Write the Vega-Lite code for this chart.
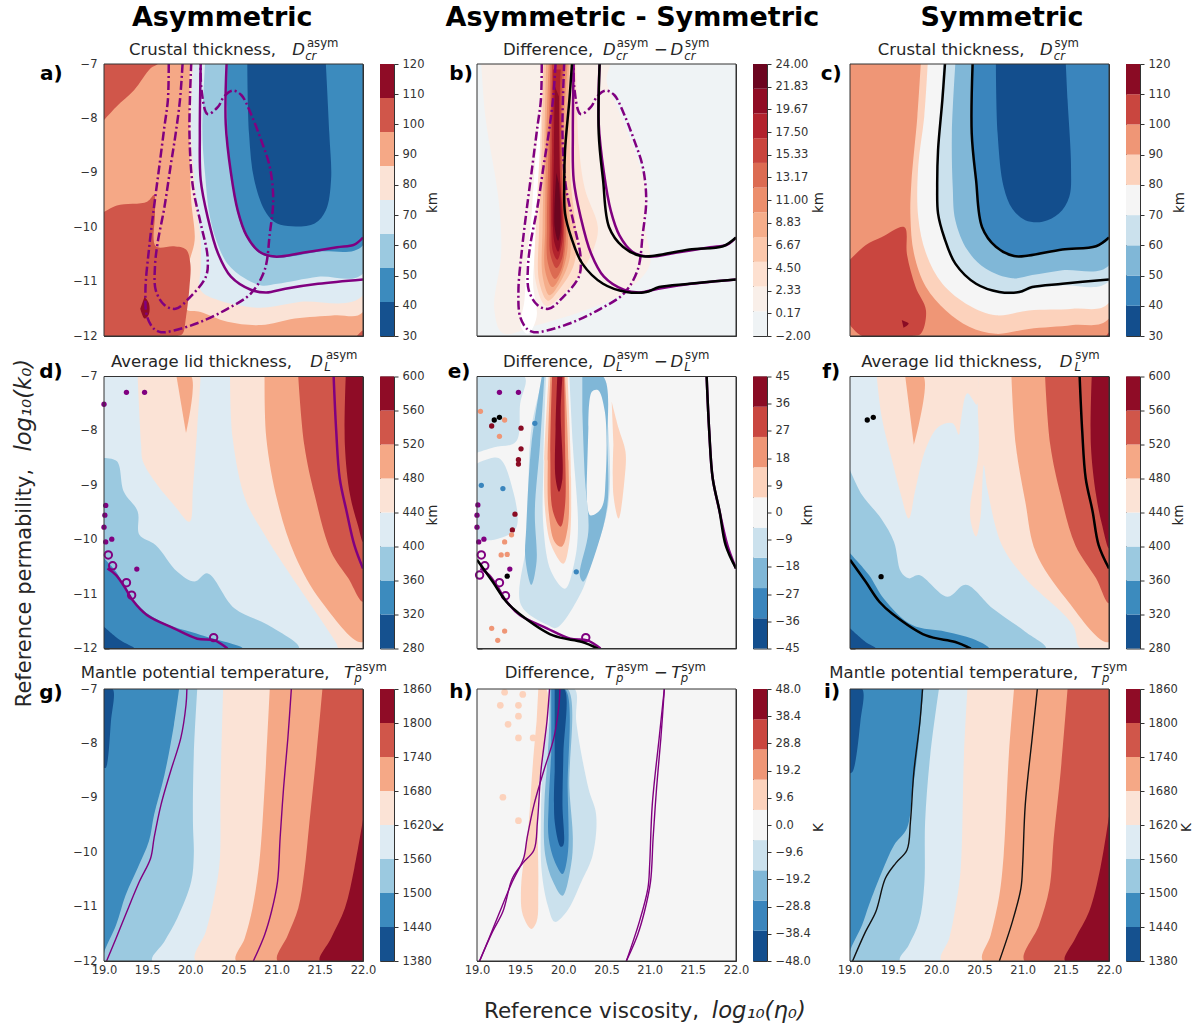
{"$schema":"https://vega.github.io/schema/vega-lite/v6.json","padding":{"left":12,"top":3,"right":0,"bottom":0},"background":"white","bounds":"flush","columns":8,"spacing":{"column":17,"row":40.5},"resolve":{"scale":{"fill":"independent","color":"independent"}},
"config":{"font":"DejaVu Sans","view":{"stroke":"#333"},"axis":{"title":null,"grid":false,"domain":false,"tickSize":-5,"tickColor":"#333","labelColor":"#333","labelFontSize":11.5,"labelPadding":12,"zindex":1,"labelFlush":false,"labelOverlap":false}},
"datasets":{
"poly":[
{"p":"a","n":0,"b":5,"x":19,"y":-12},{"p":"a","n":0,"b":5,"x":19,"y":-7},{"p":"a","n":0,"b":5,"x":22,"y":-7},{"p":"a","n":0,"b":5,"x":22,"y":-12},
{"p":"a","n":1,"b":4,"x":19.995,"y":-7},{"p":"a","n":1,"b":4,"x":19.99,"y":-8.28},{"p":"a","n":1,"b":4,"x":20.01,"y":-9.5},{"p":"a","n":1,"b":4,"x":20.05,"y":-10.24},{"p":"a","n":1,"b":4,"x":19.98,"y":-10.7},{"p":"a","n":1,"b":4,"x":19.95,"y":-11.5},{"p":"a","n":1,"b":4,"x":20.12,"y":-11.56},{"p":"a","n":1,"b":4,"x":20.43,"y":-11.74},{"p":"a","n":1,"b":4,"x":20.82,"y":-11.8},{"p":"a","n":1,"b":4,"x":21.21,"y":-11.68},{"p":"a","n":1,"b":4,"x":21.67,"y":-11.62},{"p":"a","n":1,"b":4,"x":22,"y":-11.56},{"p":"a","n":1,"b":4,"x":22,"y":-7},
{"p":"a","n":2,"b":3,"x":20.03,"y":-7},{"p":"a","n":2,"b":3,"x":20.01,"y":-8.28},{"p":"a","n":2,"b":3,"x":20.04,"y":-9.01},{"p":"a","n":2,"b":3,"x":20.08,"y":-9.75},{"p":"a","n":2,"b":3,"x":20.12,"y":-10.24},{"p":"a","n":2,"b":3,"x":20.12,"y":-10.73},{"p":"a","n":2,"b":3,"x":20.12,"y":-11.16},{"p":"a","n":2,"b":3,"x":20.32,"y":-11.34},{"p":"a","n":2,"b":3,"x":20.7,"y":-11.47},{"p":"a","n":2,"b":3,"x":20.9,"y":-11.47},{"p":"a","n":2,"b":3,"x":21.28,"y":-11.37},{"p":"a","n":2,"b":3,"x":22,"y":-11.25},{"p":"a","n":2,"b":3,"x":22,"y":-7},
{"p":"a","n":3,"b":2,"x":20.17,"y":-7},{"p":"a","n":3,"b":2,"x":20.14,"y":-8.28},{"p":"a","n":3,"b":2,"x":20.17,"y":-9.01},{"p":"a","n":3,"b":2,"x":20.22,"y":-9.75},{"p":"a","n":3,"b":2,"x":20.3,"y":-10.24},{"p":"a","n":3,"b":2,"x":20.43,"y":-10.67},{"p":"a","n":3,"b":2,"x":20.63,"y":-10.94},{"p":"a","n":3,"b":2,"x":20.82,"y":-11.07},{"p":"a","n":3,"b":2,"x":21.01,"y":-11.04},{"p":"a","n":3,"b":2,"x":21.48,"y":-10.91},{"p":"a","n":3,"b":2,"x":22,"y":-10.85},{"p":"a","n":3,"b":2,"x":22,"y":-7},
{"p":"a","n":4,"b":1,"x":20.43,"y":-7},{"p":"a","n":4,"b":1,"x":20.43,"y":-8.28},{"p":"a","n":4,"b":1,"x":20.47,"y":-9.01},{"p":"a","n":4,"b":1,"x":20.53,"y":-9.63},{"p":"a","n":4,"b":1,"x":20.63,"y":-10.12},{"p":"a","n":4,"b":1,"x":20.78,"y":-10.45},{"p":"a","n":4,"b":1,"x":20.97,"y":-10.56},{"p":"a","n":4,"b":1,"x":21.48,"y":-10.45},{"p":"a","n":4,"b":1,"x":22,"y":-10.33},{"p":"a","n":4,"b":1,"x":22,"y":-7},
{"p":"a","n":5,"b":0,"x":20.66,"y":-7},{"p":"a","n":5,"b":0,"x":20.68,"y":-8.28},{"p":"a","n":5,"b":0,"x":20.74,"y":-9.13},{"p":"a","n":5,"b":0,"x":20.86,"y":-9.69},{"p":"a","n":5,"b":0,"x":20.97,"y":-9.9},{"p":"a","n":5,"b":0,"x":21.13,"y":-9.98},{"p":"a","n":5,"b":0,"x":21.44,"y":-9.93},{"p":"a","n":5,"b":0,"x":21.57,"y":-9.69},{"p":"a","n":5,"b":0,"x":21.63,"y":-9.13},{"p":"a","n":5,"b":0,"x":21.61,"y":-8.28},{"p":"a","n":5,"b":0,"x":21.57,"y":-7},
{"p":"a","n":6,"b":6,"x":19,"y":-7},{"p":"a","n":6,"b":6,"x":19.62,"y":-7},{"p":"a","n":6,"b":6,"x":19.54,"y":-7.08},{"p":"a","n":6,"b":6,"x":19.35,"y":-7.48},{"p":"a","n":6,"b":6,"x":19.14,"y":-7.79},{"p":"a","n":6,"b":6,"x":19,"y":-8.03},
{"p":"a","n":7,"b":6,"x":19,"y":-9.72},{"p":"a","n":7,"b":6,"x":19.15,"y":-9.6},{"p":"a","n":7,"b":6,"x":19.5,"y":-9.53},{"p":"a","n":7,"b":6,"x":19.58,"y":-9.41},{"p":"a","n":7,"b":6,"x":19.59,"y":-9.75},{"p":"a","n":7,"b":6,"x":19.6,"y":-10.35},{"p":"a","n":7,"b":6,"x":19.81,"y":-10.35},{"p":"a","n":7,"b":6,"x":19.95,"y":-10.41},{"p":"a","n":7,"b":6,"x":20,"y":-10.67},{"p":"a","n":7,"b":6,"x":19.99,"y":-11.1},{"p":"a","n":7,"b":6,"x":19.95,"y":-11.65},{"p":"a","n":7,"b":6,"x":19.91,"y":-11.96},{"p":"a","n":7,"b":6,"x":19.85,"y":-12},{"p":"a","n":7,"b":6,"x":19,"y":-12},
{"p":"a","n":8,"b":7,"x":19.47,"y":-11.28},{"p":"a","n":8,"b":7,"x":19.52,"y":-11.4},{"p":"a","n":8,"b":7,"x":19.52,"y":-11.6},{"p":"a","n":8,"b":7,"x":19.47,"y":-11.68},{"p":"a","n":8,"b":7,"x":19.42,"y":-11.5},
{"p":"a","n":9,"b":6,"x":21.93,"y":-12},{"p":"a","n":9,"b":6,"x":22,"y":-11.9},{"p":"a","n":9,"b":6,"x":22,"y":-12},
{"p":"b","n":0,"b":0,"x":19,"y":-12},{"p":"b","n":0,"b":0,"x":19,"y":-7},{"p":"b","n":0,"b":0,"x":22,"y":-7},{"p":"b","n":0,"b":0,"x":22,"y":-12},
{"p":"b","n":1,"b":1,"x":19.05,"y":-7},{"p":"b","n":1,"b":1,"x":19.1,"y":-8},{"p":"b","n":1,"b":1,"x":19.25,"y":-9.5},{"p":"b","n":1,"b":1,"x":19.28,"y":-10.5},{"p":"b","n":1,"b":1,"x":19.2,"y":-11.5},{"p":"b","n":1,"b":1,"x":19.3,"y":-11.95},{"p":"b","n":1,"b":1,"x":19.7,"y":-11.8},{"p":"b","n":1,"b":1,"x":20.3,"y":-11.5},{"p":"b","n":1,"b":1,"x":20.7,"y":-11.2},{"p":"b","n":1,"b":1,"x":21,"y":-10.7},{"p":"b","n":1,"b":1,"x":20.95,"y":-10},{"p":"b","n":1,"b":1,"x":20.97,"y":-9.4},{"p":"b","n":1,"b":1,"x":20.85,"y":-8.7},{"p":"b","n":1,"b":1,"x":20.6,"y":-7.7},{"p":"b","n":1,"b":1,"x":20.5,"y":-7.3},{"p":"b","n":1,"b":1,"x":20.55,"y":-7},
{"p":"b","n":2,"b":11,"x":19.73,"y":-7.97},{"p":"b","n":2,"b":11,"x":19.67,"y":-8.89},{"p":"b","n":2,"b":11,"x":19.63,"y":-9.81},{"p":"b","n":2,"b":11,"x":19.57,"y":-10.73},{"p":"b","n":2,"b":11,"x":19.55,"y":-11.34},{"p":"b","n":2,"b":11,"x":19.51,"y":-11.83},{"p":"b","n":2,"b":11,"x":19.59,"y":-11.96},{"p":"b","n":2,"b":11,"x":19.69,"y":-11.65},{"p":"b","n":2,"b":11,"x":19.65,"y":-11.04},{"p":"b","n":2,"b":11,"x":19.69,"y":-10.12},{"p":"b","n":2,"b":11,"x":19.73,"y":-9.2},{"p":"b","n":2,"b":11,"x":19.77,"y":-8.28},
{"p":"b","n":3,"b":2,"x":19.76,"y":-7},{"p":"b","n":3,"b":2,"x":19.73,"y":-8.5},{"p":"b","n":3,"b":2,"x":19.68,"y":-10},{"p":"b","n":3,"b":2,"x":19.68,"y":-11},{"p":"b","n":3,"b":2,"x":19.8,"y":-11.45},{"p":"b","n":3,"b":2,"x":19.95,"y":-11.3},{"p":"b","n":3,"b":2,"x":20.18,"y":-10.9},{"p":"b","n":3,"b":2,"x":20.35,"y":-10.4},{"p":"b","n":3,"b":2,"x":20.4,"y":-10},{"p":"b","n":3,"b":2,"x":20.25,"y":-9.3},{"p":"b","n":3,"b":2,"x":20.18,"y":-8.5},{"p":"b","n":3,"b":2,"x":20.15,"y":-7},
{"p":"b","n":4,"b":3,"x":19.77,"y":-7},{"p":"b","n":4,"b":3,"x":19.75,"y":-8.5},{"p":"b","n":4,"b":3,"x":19.72,"y":-10},{"p":"b","n":4,"b":3,"x":19.72,"y":-11},{"p":"b","n":4,"b":3,"x":19.82,"y":-11.35},{"p":"b","n":4,"b":3,"x":19.95,"y":-11.15},{"p":"b","n":4,"b":3,"x":20.12,"y":-10.7},{"p":"b","n":4,"b":3,"x":20.15,"y":-10.2},{"p":"b","n":4,"b":3,"x":20.08,"y":-9},{"p":"b","n":4,"b":3,"x":20.1,"y":-7},
{"p":"b","n":5,"b":4,"x":19.8,"y":-7},{"p":"b","n":5,"b":4,"x":19.78,"y":-8.5},{"p":"b","n":5,"b":4,"x":19.76,"y":-10},{"p":"b","n":5,"b":4,"x":19.76,"y":-10.9},{"p":"b","n":5,"b":4,"x":19.84,"y":-11.25},{"p":"b","n":5,"b":4,"x":19.95,"y":-11.05},{"p":"b","n":5,"b":4,"x":20.07,"y":-10.6},{"p":"b","n":5,"b":4,"x":20.08,"y":-10},{"p":"b","n":5,"b":4,"x":20.03,"y":-9},{"p":"b","n":5,"b":4,"x":20.07,"y":-7},
{"p":"b","n":6,"b":5,"x":19.83,"y":-7},{"p":"b","n":6,"b":5,"x":19.8,"y":-8.5},{"p":"b","n":6,"b":5,"x":19.79,"y":-10},{"p":"b","n":6,"b":5,"x":19.79,"y":-10.8},{"p":"b","n":6,"b":5,"x":19.87,"y":-11.1},{"p":"b","n":6,"b":5,"x":19.95,"y":-10.95},{"p":"b","n":6,"b":5,"x":20.04,"y":-10.5},{"p":"b","n":6,"b":5,"x":20.05,"y":-10},{"p":"b","n":6,"b":5,"x":20,"y":-8.5},{"p":"b","n":6,"b":5,"x":20.05,"y":-7},
{"p":"b","n":7,"b":6,"x":19.85,"y":-7},{"p":"b","n":7,"b":6,"x":19.83,"y":-8.5},{"p":"b","n":7,"b":6,"x":19.81,"y":-10},{"p":"b","n":7,"b":6,"x":19.82,"y":-10.65},{"p":"b","n":7,"b":6,"x":19.9,"y":-10.95},{"p":"b","n":7,"b":6,"x":19.97,"y":-10.8},{"p":"b","n":7,"b":6,"x":20.02,"y":-10.4},{"p":"b","n":7,"b":6,"x":20.03,"y":-10},{"p":"b","n":7,"b":6,"x":19.98,"y":-8.5},{"p":"b","n":7,"b":6,"x":20.02,"y":-7},
{"p":"b","n":8,"b":7,"x":19.87,"y":-7},{"p":"b","n":8,"b":7,"x":19.85,"y":-8.5},{"p":"b","n":8,"b":7,"x":19.84,"y":-10},{"p":"b","n":8,"b":7,"x":19.85,"y":-10.5},{"p":"b","n":8,"b":7,"x":19.92,"y":-10.75},{"p":"b","n":8,"b":7,"x":19.98,"y":-10.6},{"p":"b","n":8,"b":7,"x":20.01,"y":-10.2},{"p":"b","n":8,"b":7,"x":19.98,"y":-9},{"p":"b","n":8,"b":7,"x":19.98,"y":-7.5},{"p":"b","n":8,"b":7,"x":20,"y":-7},
{"p":"b","n":9,"b":8,"x":19.88,"y":-7.1},{"p":"b","n":9,"b":8,"x":19.87,"y":-8.5},{"p":"b","n":9,"b":8,"x":19.86,"y":-10},{"p":"b","n":9,"b":8,"x":19.88,"y":-10.45},{"p":"b","n":9,"b":8,"x":19.93,"y":-10.6},{"p":"b","n":9,"b":8,"x":19.98,"y":-10.35},{"p":"b","n":9,"b":8,"x":20,"y":-10},{"p":"b","n":9,"b":8,"x":19.96,"y":-9},{"p":"b","n":9,"b":8,"x":19.96,"y":-7.5},{"p":"b","n":9,"b":8,"x":19.97,"y":-7.1},
{"p":"b","n":10,"b":9,"x":19.9,"y":-7.4},{"p":"b","n":10,"b":9,"x":19.89,"y":-8.7},{"p":"b","n":10,"b":9,"x":19.88,"y":-10},{"p":"b","n":10,"b":9,"x":19.9,"y":-10.3},{"p":"b","n":10,"b":9,"x":19.94,"y":-10.45},{"p":"b","n":10,"b":9,"x":19.98,"y":-10.1},{"p":"b","n":10,"b":9,"x":19.96,"y":-9},{"p":"b","n":10,"b":9,"x":19.95,"y":-7.6},
{"p":"b","n":11,"b":10,"x":19.92,"y":-9},{"p":"b","n":11,"b":10,"x":19.9,"y":-10},{"p":"b","n":11,"b":10,"x":19.94,"y":-10.25},{"p":"b","n":11,"b":10,"x":19.97,"y":-10},{"p":"b","n":11,"b":10,"x":19.95,"y":-9.2},
{"p":"c","n":0,"b":6,"x":19,"y":-12},{"p":"c","n":0,"b":6,"x":19,"y":-7},{"p":"c","n":0,"b":6,"x":22,"y":-7},{"p":"c","n":0,"b":6,"x":22,"y":-12},
{"p":"c","n":1,"b":5,"x":19.82,"y":-7},{"p":"c","n":1,"b":5,"x":19.78,"y":-7.97},{"p":"c","n":1,"b":5,"x":19.71,"y":-9.2},{"p":"c","n":1,"b":5,"x":19.7,"y":-9.81},{"p":"c","n":1,"b":5,"x":19.74,"y":-10.48},{"p":"c","n":1,"b":5,"x":19.88,"y":-11.1},{"p":"c","n":1,"b":5,"x":20.11,"y":-11.53},{"p":"c","n":1,"b":5,"x":20.38,"y":-11.83},{"p":"c","n":1,"b":5,"x":20.69,"y":-11.96},{"p":"c","n":1,"b":5,"x":21.07,"y":-11.87},{"p":"c","n":1,"b":5,"x":21.58,"y":-11.8},{"p":"c","n":1,"b":5,"x":22,"y":-11.68},{"p":"c","n":1,"b":5,"x":22,"y":-7},
{"p":"c","n":2,"b":4,"x":19.9,"y":-7},{"p":"c","n":2,"b":4,"x":19.86,"y":-7.97},{"p":"c","n":2,"b":4,"x":19.79,"y":-8.89},{"p":"c","n":2,"b":4,"x":19.79,"y":-9.81},{"p":"c","n":2,"b":4,"x":19.88,"y":-10.48},{"p":"c","n":2,"b":4,"x":20.07,"y":-11.04},{"p":"c","n":2,"b":4,"x":20.38,"y":-11.44},{"p":"c","n":2,"b":4,"x":20.69,"y":-11.62},{"p":"c","n":2,"b":4,"x":21.07,"y":-11.53},{"p":"c","n":2,"b":4,"x":21.58,"y":-11.5},{"p":"c","n":2,"b":4,"x":22,"y":-11.39},{"p":"c","n":2,"b":4,"x":22,"y":-7},
{"p":"c","n":3,"b":3,"x":20.08,"y":-7},{"p":"c","n":3,"b":3,"x":20.03,"y":-8.28},{"p":"c","n":3,"b":3,"x":20,"y":-9.26},{"p":"c","n":3,"b":3,"x":20.01,"y":-9.75},{"p":"c","n":3,"b":3,"x":20.08,"y":-10.18},{"p":"c","n":3,"b":3,"x":20.21,"y":-10.67},{"p":"c","n":3,"b":3,"x":20.45,"y":-11.04},{"p":"c","n":3,"b":3,"x":20.72,"y":-11.22},{"p":"c","n":3,"b":3,"x":20.96,"y":-11.22},{"p":"c","n":3,"b":3,"x":21.12,"y":-11.13},{"p":"c","n":3,"b":3,"x":21.46,"y":-11.07},{"p":"c","n":3,"b":3,"x":22,"y":-10.99},{"p":"c","n":3,"b":3,"x":22,"y":-7},
{"p":"c","n":4,"b":2,"x":20.22,"y":-7},{"p":"c","n":4,"b":2,"x":20.18,"y":-8.28},{"p":"c","n":4,"b":2,"x":20.19,"y":-9.26},{"p":"c","n":4,"b":2,"x":20.22,"y":-9.87},{"p":"c","n":4,"b":2,"x":20.36,"y":-10.42},{"p":"c","n":4,"b":2,"x":20.57,"y":-10.76},{"p":"c","n":4,"b":2,"x":20.88,"y":-10.94},{"p":"c","n":4,"b":2,"x":21.11,"y":-10.88},{"p":"c","n":4,"b":2,"x":21.46,"y":-10.79},{"p":"c","n":4,"b":2,"x":22,"y":-10.7},{"p":"c","n":4,"b":2,"x":22,"y":-7},
{"p":"c","n":5,"b":1,"x":20.42,"y":-7},{"p":"c","n":5,"b":1,"x":20.41,"y":-8.28},{"p":"c","n":5,"b":1,"x":20.46,"y":-9.13},{"p":"c","n":5,"b":1,"x":20.53,"y":-10},{"p":"c","n":5,"b":1,"x":20.69,"y":-10.36},{"p":"c","n":5,"b":1,"x":20.9,"y":-10.53},{"p":"c","n":5,"b":1,"x":21.07,"y":-10.52},{"p":"c","n":5,"b":1,"x":21.46,"y":-10.41},{"p":"c","n":5,"b":1,"x":21.85,"y":-10.35},{"p":"c","n":5,"b":1,"x":22,"y":-10.19},{"p":"c","n":5,"b":1,"x":22,"y":-7},
{"p":"c","n":6,"b":0,"x":20.69,"y":-7},{"p":"c","n":6,"b":0,"x":20.71,"y":-8.28},{"p":"c","n":6,"b":0,"x":20.78,"y":-9.26},{"p":"c","n":6,"b":0,"x":20.88,"y":-9.66},{"p":"c","n":6,"b":0,"x":21.03,"y":-9.87},{"p":"c","n":6,"b":0,"x":21.23,"y":-9.9},{"p":"c","n":6,"b":0,"x":21.42,"y":-9.75},{"p":"c","n":6,"b":0,"x":21.54,"y":-9.44},{"p":"c","n":6,"b":0,"x":21.56,"y":-8.89},{"p":"c","n":6,"b":0,"x":21.52,"y":-7.66},{"p":"c","n":6,"b":0,"x":21.5,"y":-7},
{"p":"c","n":7,"b":7,"x":19,"y":-10.6},{"p":"c","n":7,"b":7,"x":19.18,"y":-10.33},{"p":"c","n":7,"b":7,"x":19.37,"y":-10.18},{"p":"c","n":7,"b":7,"x":19.63,"y":-10},{"p":"c","n":7,"b":7,"x":19.66,"y":-10.5},{"p":"c","n":7,"b":7,"x":19.76,"y":-11.1},{"p":"c","n":7,"b":7,"x":19.88,"y":-11.53},{"p":"c","n":7,"b":7,"x":19.82,"y":-11.96},{"p":"c","n":7,"b":7,"x":19.72,"y":-12},{"p":"c","n":7,"b":7,"x":19.14,"y":-12},{"p":"c","n":7,"b":7,"x":19,"y":-11.8},
{"p":"c","n":8,"b":8,"x":19.6,"y":-11.71},{"p":"c","n":8,"b":8,"x":19.68,"y":-11.77},{"p":"c","n":8,"b":8,"x":19.62,"y":-11.85},
{"p":"c","n":9,"b":7,"x":22,"y":-11.93},{"p":"c","n":9,"b":7,"x":21.97,"y":-12},{"p":"c","n":9,"b":7,"x":22,"y":-12},
{"p":"d","n":0,"b":3,"x":19,"y":-12},{"p":"d","n":0,"b":3,"x":19,"y":-7},{"p":"d","n":0,"b":3,"x":22,"y":-7},{"p":"d","n":0,"b":3,"x":22,"y":-12},
{"p":"d","n":1,"b":4,"x":20.46,"y":-7},{"p":"d","n":1,"b":4,"x":20.49,"y":-8.13},{"p":"d","n":1,"b":4,"x":20.64,"y":-9.27},{"p":"d","n":1,"b":4,"x":20.86,"y":-9.91},{"p":"d","n":1,"b":4,"x":21.11,"y":-10.53},{"p":"d","n":1,"b":4,"x":21.69,"y":-11.9},{"p":"d","n":1,"b":4,"x":21.72,"y":-12},{"p":"d","n":1,"b":4,"x":22,"y":-12},{"p":"d","n":1,"b":4,"x":22,"y":-7},
{"p":"d","n":2,"b":5,"x":20.86,"y":-7},{"p":"d","n":2,"b":5,"x":20.88,"y":-8.13},{"p":"d","n":2,"b":5,"x":21.01,"y":-9.3},{"p":"d","n":2,"b":5,"x":21.21,"y":-10.28},{"p":"d","n":2,"b":5,"x":21.52,"y":-11.14},{"p":"d","n":2,"b":5,"x":22,"y":-11.88},{"p":"d","n":2,"b":5,"x":22,"y":-7},
{"p":"d","n":3,"b":6,"x":21.25,"y":-7},{"p":"d","n":3,"b":6,"x":21.32,"y":-8.26},{"p":"d","n":3,"b":6,"x":21.44,"y":-9.18},{"p":"d","n":3,"b":6,"x":21.63,"y":-10.22},{"p":"d","n":3,"b":6,"x":21.83,"y":-10.71},{"p":"d","n":3,"b":6,"x":22,"y":-11.14},{"p":"d","n":3,"b":6,"x":22,"y":-7},
{"p":"d","n":4,"b":7,"x":21.8,"y":-7},{"p":"d","n":4,"b":7,"x":21.79,"y":-8.26},{"p":"d","n":4,"b":7,"x":21.85,"y":-9.18},{"p":"d","n":4,"b":7,"x":21.94,"y":-9.73},{"p":"d","n":4,"b":7,"x":22,"y":-10.04},{"p":"d","n":4,"b":7,"x":22,"y":-7},
{"p":"d","n":5,"b":4,"x":19.39,"y":-7},{"p":"d","n":5,"b":4,"x":19.43,"y":-8.26},{"p":"d","n":5,"b":4,"x":19.45,"y":-8.56},{"p":"d","n":5,"b":4,"x":19.62,"y":-9},{"p":"d","n":5,"b":4,"x":19.81,"y":-9.36},{"p":"d","n":5,"b":4,"x":19.99,"y":-9.67},{"p":"d","n":5,"b":4,"x":20.03,"y":-9.05},{"p":"d","n":5,"b":4,"x":20.08,"y":-7.95},{"p":"d","n":5,"b":4,"x":20.12,"y":-7},
{"p":"d","n":6,"b":5,"x":19.84,"y":-7},{"p":"d","n":6,"b":5,"x":20.01,"y":-7},{"p":"d","n":6,"b":5,"x":19.95,"y":-8.04},
{"p":"d","n":7,"b":2,"x":19,"y":-8.5},{"p":"d","n":7,"b":2,"x":19.15,"y":-8.56},{"p":"d","n":7,"b":2,"x":19.23,"y":-9.12},{"p":"d","n":7,"b":2,"x":19.39,"y":-9.48},{"p":"d","n":7,"b":2,"x":19.41,"y":-9.91},{"p":"d","n":7,"b":2,"x":19.6,"y":-10.1},{"p":"d","n":7,"b":2,"x":19.85,"y":-10.59},{"p":"d","n":7,"b":2,"x":20.05,"y":-10.77},{"p":"d","n":7,"b":2,"x":20.2,"y":-10.62},{"p":"d","n":7,"b":2,"x":20.51,"y":-11.26},{"p":"d","n":7,"b":2,"x":20.9,"y":-11.57},{"p":"d","n":7,"b":2,"x":21.26,"y":-12},{"p":"d","n":7,"b":2,"x":19,"y":-12},
{"p":"d","n":8,"b":1,"x":19,"y":-10.34},{"p":"d","n":8,"b":1,"x":19.14,"y":-10.59},{"p":"d","n":8,"b":1,"x":19.35,"y":-11.14},{"p":"d","n":8,"b":1,"x":19.66,"y":-11.51},{"p":"d","n":8,"b":1,"x":20.12,"y":-11.75},{"p":"d","n":8,"b":1,"x":20.61,"y":-12},{"p":"d","n":8,"b":1,"x":19,"y":-12},
{"p":"d","n":9,"b":0,"x":19,"y":-11.6},{"p":"d","n":9,"b":0,"x":19.19,"y":-11.85},{"p":"d","n":9,"b":0,"x":19.35,"y":-12},{"p":"d","n":9,"b":0,"x":19,"y":-12},
{"p":"e","n":0,"b":4,"x":19,"y":-12},{"p":"e","n":0,"b":4,"x":19,"y":-7},{"p":"e","n":0,"b":4,"x":22,"y":-7},{"p":"e","n":0,"b":4,"x":22,"y":-12},
{"p":"e","n":1,"b":3,"x":19,"y":-7},{"p":"e","n":1,"b":3,"x":19.55,"y":-7},{"p":"e","n":1,"b":3,"x":19.5,"y":-7.5},{"p":"e","n":1,"b":3,"x":19.45,"y":-8.2},{"p":"e","n":1,"b":3,"x":19.2,"y":-8.3},{"p":"e","n":1,"b":3,"x":19,"y":-8.4},
{"p":"e","n":2,"b":3,"x":19,"y":-8.6},{"p":"e","n":2,"b":3,"x":19.25,"y":-8.5},{"p":"e","n":2,"b":3,"x":19.4,"y":-9},{"p":"e","n":2,"b":3,"x":19.45,"y":-9.8},{"p":"e","n":2,"b":3,"x":19.2,"y":-10},{"p":"e","n":2,"b":3,"x":19,"y":-10},
{"p":"e","n":3,"b":3,"x":19.77,"y":-7},{"p":"e","n":3,"b":3,"x":19.63,"y":-7.95},{"p":"e","n":3,"b":3,"x":19.59,"y":-9.48},{"p":"e","n":3,"b":3,"x":19.57,"y":-10.1},{"p":"e","n":3,"b":3,"x":19.51,"y":-11.2},{"p":"e","n":3,"b":3,"x":19.82,"y":-11.57},{"p":"e","n":3,"b":3,"x":19.92,"y":-11.62},{"p":"e","n":3,"b":3,"x":20.21,"y":-10.96},{"p":"e","n":3,"b":3,"x":20.33,"y":-10.4},{"p":"e","n":3,"b":3,"x":20.52,"y":-9.36},{"p":"e","n":3,"b":3,"x":20.52,"y":-7.95},{"p":"e","n":3,"b":3,"x":20.44,"y":-7},
{"p":"e","n":4,"b":2,"x":19.75,"y":-7},{"p":"e","n":4,"b":2,"x":19.63,"y":-8.26},{"p":"e","n":4,"b":2,"x":19.57,"y":-9.79},{"p":"e","n":4,"b":2,"x":19.56,"y":-10.34},{"p":"e","n":4,"b":2,"x":19.63,"y":-10.83},{"p":"e","n":4,"b":2,"x":19.69,"y":-10.4},{"p":"e","n":4,"b":2,"x":19.67,"y":-9.48},{"p":"e","n":4,"b":2,"x":19.73,"y":-8.26},{"p":"e","n":4,"b":2,"x":19.78,"y":-7},
{"p":"e","n":5,"b":2,"x":20.22,"y":-7},{"p":"e","n":5,"b":2,"x":20.46,"y":-7},{"p":"e","n":5,"b":2,"x":20.51,"y":-8.26},{"p":"e","n":5,"b":2,"x":20.51,"y":-9.36},{"p":"e","n":5,"b":2,"x":20.4,"y":-10.1},{"p":"e","n":5,"b":2,"x":20.23,"y":-10.77},{"p":"e","n":5,"b":2,"x":20.19,"y":-10.65},{"p":"e","n":5,"b":2,"x":20.29,"y":-9.85},{"p":"e","n":5,"b":2,"x":20.25,"y":-8.87},{"p":"e","n":5,"b":2,"x":20.22,"y":-7.64},
{"p":"e","n":6,"b":4,"x":20.29,"y":-7.95},{"p":"e","n":6,"b":4,"x":20.33,"y":-7.28},{"p":"e","n":6,"b":4,"x":20.4,"y":-7.25},{"p":"e","n":6,"b":4,"x":20.48,"y":-7.64},{"p":"e","n":6,"b":4,"x":20.49,"y":-8.87},{"p":"e","n":6,"b":4,"x":20.44,"y":-9.42},{"p":"e","n":6,"b":4,"x":20.31,"y":-9.55},{"p":"e","n":6,"b":4,"x":20.27,"y":-8.99},
{"p":"e","n":7,"b":4,"x":19.8,"y":-7},{"p":"e","n":7,"b":4,"x":19.77,"y":-8.56},{"p":"e","n":7,"b":4,"x":19.77,"y":-9.79},{"p":"e","n":7,"b":4,"x":19.86,"y":-10.59},{"p":"e","n":7,"b":4,"x":20.02,"y":-10.9},{"p":"e","n":7,"b":4,"x":20.13,"y":-10.4},{"p":"e","n":7,"b":4,"x":20.17,"y":-9.79},{"p":"e","n":7,"b":4,"x":20.11,"y":-8.26},{"p":"e","n":7,"b":4,"x":20.07,"y":-7},
{"p":"e","n":8,"b":5,"x":19.83,"y":-7},{"p":"e","n":8,"b":5,"x":19.78,"y":-8.56},{"p":"e","n":8,"b":5,"x":19.79,"y":-9.48},{"p":"e","n":8,"b":5,"x":19.86,"y":-10.1},{"p":"e","n":8,"b":5,"x":20,"y":-10.44},{"p":"e","n":8,"b":5,"x":20.07,"y":-10.04},{"p":"e","n":8,"b":5,"x":20.09,"y":-8.87},{"p":"e","n":8,"b":5,"x":20.05,"y":-7},
{"p":"e","n":9,"b":6,"x":19.85,"y":-7},{"p":"e","n":9,"b":6,"x":19.82,"y":-8.56},{"p":"e","n":9,"b":6,"x":19.83,"y":-9.48},{"p":"e","n":9,"b":6,"x":19.9,"y":-10.04},{"p":"e","n":9,"b":6,"x":19.98,"y":-10.13},{"p":"e","n":9,"b":6,"x":20.05,"y":-9.79},{"p":"e","n":9,"b":6,"x":20.06,"y":-8.56},{"p":"e","n":9,"b":6,"x":20.02,"y":-7},
{"p":"e","n":10,"b":7,"x":19.87,"y":-7},{"p":"e","n":10,"b":7,"x":19.85,"y":-8.56},{"p":"e","n":10,"b":7,"x":19.88,"y":-9.48},{"p":"e","n":10,"b":7,"x":19.97,"y":-9.76},{"p":"e","n":10,"b":7,"x":20.02,"y":-9.36},{"p":"e","n":10,"b":7,"x":20.02,"y":-8.26},{"p":"e","n":10,"b":7,"x":20.01,"y":-7},
{"p":"e","n":11,"b":8,"x":19.93,"y":-7},{"p":"e","n":11,"b":8,"x":19.91,"y":-7.95},{"p":"e","n":11,"b":8,"x":19.91,"y":-8.87},{"p":"e","n":11,"b":8,"x":19.95,"y":-9.12},{"p":"e","n":11,"b":8,"x":19.99,"y":-8.87},{"p":"e","n":11,"b":8,"x":19.97,"y":-7.64},{"p":"e","n":11,"b":8,"x":19.99,"y":-7},
{"p":"e","n":12,"b":5,"x":20.56,"y":-7.46},{"p":"e","n":12,"b":5,"x":20.64,"y":-7.95},{"p":"e","n":12,"b":5,"x":20.72,"y":-8.38},{"p":"e","n":12,"b":5,"x":20.71,"y":-8.87},{"p":"e","n":12,"b":5,"x":20.64,"y":-9.61},{"p":"e","n":12,"b":5,"x":20.58,"y":-9.18},{"p":"e","n":12,"b":5,"x":20.58,"y":-8.26},
{"p":"f","n":0,"b":3,"x":19,"y":-12},{"p":"f","n":0,"b":3,"x":19,"y":-7},{"p":"f","n":0,"b":3,"x":22,"y":-7},{"p":"f","n":0,"b":3,"x":22,"y":-12},
{"p":"f","n":1,"b":4,"x":19.31,"y":-7},{"p":"f","n":1,"b":4,"x":19.37,"y":-7.77},{"p":"f","n":1,"b":4,"x":19.49,"y":-8.56},{"p":"f","n":1,"b":4,"x":19.59,"y":-9.18},{"p":"f","n":1,"b":4,"x":19.68,"y":-9.61},{"p":"f","n":1,"b":4,"x":19.76,"y":-9.06},{"p":"f","n":1,"b":4,"x":19.88,"y":-8.32},{"p":"f","n":1,"b":4,"x":20.03,"y":-7.92},{"p":"f","n":1,"b":4,"x":20.19,"y":-7.86},{"p":"f","n":1,"b":4,"x":20.26,"y":-8.07},{"p":"f","n":1,"b":4,"x":20.28,"y":-7.86},{"p":"f","n":1,"b":4,"x":20.36,"y":-7.31},{"p":"f","n":1,"b":4,"x":20.47,"y":-7.52},{"p":"f","n":1,"b":4,"x":20.49,"y":-7},
{"p":"f","n":2,"b":4,"x":20.49,"y":-7},{"p":"f","n":2,"b":4,"x":20.48,"y":-7.5},{"p":"f","n":2,"b":4,"x":20.49,"y":-8.38},{"p":"f","n":2,"b":4,"x":20.39,"y":-9.55},{"p":"f","n":2,"b":4,"x":20.46,"y":-9.94},{"p":"f","n":2,"b":4,"x":20.51,"y":-9.61},{"p":"f","n":2,"b":4,"x":20.55,"y":-8.63},{"p":"f","n":2,"b":4,"x":20.59,"y":-9.06},{"p":"f","n":2,"b":4,"x":20.76,"y":-10.1},{"p":"f","n":2,"b":4,"x":21.03,"y":-10.71},{"p":"f","n":2,"b":4,"x":21.58,"y":-11.57},{"p":"f","n":2,"b":4,"x":21.67,"y":-12},{"p":"f","n":2,"b":4,"x":22,"y":-12},{"p":"f","n":2,"b":4,"x":22,"y":-7},
{"p":"f","n":3,"b":5,"x":20.87,"y":-7},{"p":"f","n":3,"b":5,"x":20.92,"y":-8.26},{"p":"f","n":3,"b":5,"x":21.03,"y":-9.3},{"p":"f","n":3,"b":5,"x":21.15,"y":-10.22},{"p":"f","n":3,"b":5,"x":21.5,"y":-11.08},{"p":"f","n":3,"b":5,"x":22,"y":-11.88},{"p":"f","n":3,"b":5,"x":22,"y":-7},
{"p":"f","n":4,"b":5,"x":19.64,"y":-7},{"p":"f","n":4,"b":5,"x":19.85,"y":-7},{"p":"f","n":4,"b":5,"x":19.74,"y":-8.26},
{"p":"f","n":5,"b":6,"x":21.26,"y":-7},{"p":"f","n":5,"b":6,"x":21.32,"y":-8.26},{"p":"f","n":5,"b":6,"x":21.44,"y":-9.18},{"p":"f","n":5,"b":6,"x":21.61,"y":-10.1},{"p":"f","n":5,"b":6,"x":21.85,"y":-10.71},{"p":"f","n":5,"b":6,"x":22,"y":-11.17},{"p":"f","n":5,"b":6,"x":22,"y":-7},
{"p":"f","n":6,"b":7,"x":21.8,"y":-7},{"p":"f","n":6,"b":7,"x":21.79,"y":-8.26},{"p":"f","n":6,"b":7,"x":21.85,"y":-9.18},{"p":"f","n":6,"b":7,"x":21.92,"y":-9.73},{"p":"f","n":6,"b":7,"x":22,"y":-10.16},{"p":"f","n":6,"b":7,"x":22,"y":-7},
{"p":"f","n":7,"b":2,"x":19,"y":-8.72},{"p":"f","n":7,"b":2,"x":19.14,"y":-9.18},{"p":"f","n":7,"b":2,"x":19.36,"y":-9.61},{"p":"f","n":7,"b":2,"x":19.51,"y":-10.04},{"p":"f","n":7,"b":2,"x":19.59,"y":-10.59},{"p":"f","n":7,"b":2,"x":19.68,"y":-10.71},{"p":"f","n":7,"b":2,"x":19.8,"y":-10.65},{"p":"f","n":7,"b":2,"x":20.13,"y":-11.05},{"p":"f","n":7,"b":2,"x":20.34,"y":-10.83},{"p":"f","n":7,"b":2,"x":20.65,"y":-11.26},{"p":"f","n":7,"b":2,"x":21.03,"y":-11.69},{"p":"f","n":7,"b":2,"x":21.27,"y":-12},{"p":"f","n":7,"b":2,"x":19,"y":-12},
{"p":"f","n":8,"b":1,"x":19,"y":-10.25},{"p":"f","n":8,"b":1,"x":19.22,"y":-10.65},{"p":"f","n":8,"b":1,"x":19.39,"y":-11.08},{"p":"f","n":8,"b":1,"x":19.72,"y":-11.57},{"p":"f","n":8,"b":1,"x":20.11,"y":-11.69},{"p":"f","n":8,"b":1,"x":20.42,"y":-11.82},{"p":"f","n":8,"b":1,"x":20.61,"y":-12},{"p":"f","n":8,"b":1,"x":19,"y":-12},
{"p":"f","n":9,"b":0,"x":19,"y":-11.63},{"p":"f","n":9,"b":0,"x":19.18,"y":-11.88},{"p":"f","n":9,"b":0,"x":19.3,"y":-12},{"p":"f","n":9,"b":0,"x":19,"y":-12},
{"p":"g","n":0,"b":1,"x":19,"y":-12},{"p":"g","n":0,"b":1,"x":19,"y":-7},{"p":"g","n":0,"b":1,"x":22,"y":-7},{"p":"g","n":0,"b":1,"x":22,"y":-12},
{"p":"g","n":1,"b":0,"x":19,"y":-7},{"p":"g","n":1,"b":0,"x":19.1,"y":-7},{"p":"g","n":1,"b":0,"x":19.08,"y":-7.6},{"p":"g","n":1,"b":0,"x":19.02,"y":-8.45},{"p":"g","n":1,"b":0,"x":19,"y":-8.45},
{"p":"g","n":2,"b":2,"x":19.87,"y":-7},{"p":"g","n":2,"b":2,"x":19.81,"y":-7.66},{"p":"g","n":2,"b":2,"x":19.7,"y":-8.58},{"p":"g","n":2,"b":2,"x":19.58,"y":-9.31},{"p":"g","n":2,"b":2,"x":19.52,"y":-9.8},{"p":"g","n":2,"b":2,"x":19.39,"y":-10.29},{"p":"g","n":2,"b":2,"x":19.25,"y":-10.79},{"p":"g","n":2,"b":2,"x":19.14,"y":-11.34},{"p":"g","n":2,"b":2,"x":19,"y":-11.86},{"p":"g","n":2,"b":2,"x":19,"y":-12},{"p":"g","n":2,"b":2,"x":22,"y":-12},{"p":"g","n":2,"b":2,"x":22,"y":-7},
{"p":"g","n":3,"b":3,"x":20.08,"y":-7},{"p":"g","n":3,"b":3,"x":20.04,"y":-8.21},{"p":"g","n":3,"b":3,"x":20.03,"y":-9.44},{"p":"g","n":3,"b":3,"x":20.04,"y":-10.05},{"p":"g","n":3,"b":3,"x":20.01,"y":-10.54},{"p":"g","n":3,"b":3,"x":19.85,"y":-11.21},{"p":"g","n":3,"b":3,"x":19.7,"y":-11.64},{"p":"g","n":3,"b":3,"x":19.56,"y":-12},{"p":"g","n":3,"b":3,"x":22,"y":-12},{"p":"g","n":3,"b":3,"x":22,"y":-7},
{"p":"g","n":4,"b":4,"x":20.38,"y":-7},{"p":"g","n":4,"b":4,"x":20.35,"y":-8.82},{"p":"g","n":4,"b":4,"x":20.34,"y":-10.17},{"p":"g","n":4,"b":4,"x":20.28,"y":-10.79},{"p":"g","n":4,"b":4,"x":20.18,"y":-11.46},{"p":"g","n":4,"b":4,"x":20.06,"y":-12},{"p":"g","n":4,"b":4,"x":22,"y":-12},{"p":"g","n":4,"b":4,"x":22,"y":-7},
{"p":"g","n":5,"b":5,"x":20.92,"y":-7},{"p":"g","n":5,"b":5,"x":20.86,"y":-8.82},{"p":"g","n":5,"b":5,"x":20.8,"y":-10.17},{"p":"g","n":5,"b":5,"x":20.72,"y":-11.03},{"p":"g","n":5,"b":5,"x":20.63,"y":-11.58},{"p":"g","n":5,"b":5,"x":20.53,"y":-12},{"p":"g","n":5,"b":5,"x":22,"y":-12},{"p":"g","n":5,"b":5,"x":22,"y":-7},
{"p":"g","n":6,"b":6,"x":21.53,"y":-7},{"p":"g","n":6,"b":6,"x":21.46,"y":-8.21},{"p":"g","n":6,"b":6,"x":21.38,"y":-9.44},{"p":"g","n":6,"b":6,"x":21.32,"y":-10.36},{"p":"g","n":6,"b":6,"x":21.25,"y":-11.03},{"p":"g","n":6,"b":6,"x":21.13,"y":-11.52},{"p":"g","n":6,"b":6,"x":21.01,"y":-12},{"p":"g","n":6,"b":6,"x":22,"y":-12},{"p":"g","n":6,"b":6,"x":22,"y":-7},
{"p":"g","n":7,"b":7,"x":22,"y":-9.4},{"p":"g","n":7,"b":7,"x":21.9,"y":-10.29},{"p":"g","n":7,"b":7,"x":21.79,"y":-11.03},{"p":"g","n":7,"b":7,"x":21.63,"y":-11.58},{"p":"g","n":7,"b":7,"x":21.5,"y":-12},{"p":"g","n":7,"b":7,"x":22,"y":-12},
{"p":"h","n":0,"b":4,"x":19,"y":-12},{"p":"h","n":0,"b":4,"x":19,"y":-7},{"p":"h","n":0,"b":4,"x":22,"y":-7},{"p":"h","n":0,"b":4,"x":22,"y":-12},
{"p":"h","n":1,"b":5,"x":19.71,"y":-7},{"p":"h","n":1,"b":5,"x":19.8,"y":-7},{"p":"h","n":1,"b":5,"x":19.78,"y":-8.09},{"p":"h","n":1,"b":5,"x":19.71,"y":-8.82},{"p":"h","n":1,"b":5,"x":19.71,"y":-10.66},{"p":"h","n":1,"b":5,"x":19.69,"y":-11.28},{"p":"h","n":1,"b":5,"x":19.63,"y":-11.41},{"p":"h","n":1,"b":5,"x":19.53,"y":-11.15},{"p":"h","n":1,"b":5,"x":19.51,"y":-10.66},{"p":"h","n":1,"b":5,"x":19.55,"y":-10.05},{"p":"h","n":1,"b":5,"x":19.6,"y":-9.44},{"p":"h","n":1,"b":5,"x":19.64,"y":-8.52},{"p":"h","n":1,"b":5,"x":19.69,"y":-7.6},
{"p":"h","n":2,"b":3,"x":19.84,"y":-7},{"p":"h","n":2,"b":3,"x":20.13,"y":-7},{"p":"h","n":2,"b":3,"x":20.15,"y":-7.6},{"p":"h","n":2,"b":3,"x":20.29,"y":-8.82},{"p":"h","n":2,"b":3,"x":20.38,"y":-9.31},{"p":"h","n":2,"b":3,"x":20.34,"y":-10.05},{"p":"h","n":2,"b":3,"x":20.21,"y":-10.54},{"p":"h","n":2,"b":3,"x":20.04,"y":-11.09},{"p":"h","n":2,"b":3,"x":19.9,"y":-11.28},{"p":"h","n":2,"b":3,"x":19.82,"y":-10.98},{"p":"h","n":2,"b":3,"x":19.75,"y":-10.36},{"p":"h","n":2,"b":3,"x":19.74,"y":-9.44},{"p":"h","n":2,"b":3,"x":19.77,"y":-8.21},{"p":"h","n":2,"b":3,"x":19.83,"y":-7.6},
{"p":"h","n":3,"b":2,"x":19.84,"y":-7},{"p":"h","n":3,"b":2,"x":20.05,"y":-7},{"p":"h","n":3,"b":2,"x":20.07,"y":-8.82},{"p":"h","n":3,"b":2,"x":20.11,"y":-9.74},{"p":"h","n":3,"b":2,"x":20.09,"y":-10.23},{"p":"h","n":3,"b":2,"x":19.99,"y":-10.8},{"p":"h","n":3,"b":2,"x":19.88,"y":-10.54},{"p":"h","n":3,"b":2,"x":19.79,"y":-10.05},{"p":"h","n":3,"b":2,"x":19.78,"y":-9.13},{"p":"h","n":3,"b":2,"x":19.82,"y":-8.21},{"p":"h","n":3,"b":2,"x":19.84,"y":-7.6},
{"p":"h","n":4,"b":1,"x":19.86,"y":-7},{"p":"h","n":4,"b":1,"x":20.02,"y":-7},{"p":"h","n":4,"b":1,"x":20.05,"y":-8.82},{"p":"h","n":4,"b":1,"x":20.05,"y":-10.05},{"p":"h","n":4,"b":1,"x":19.99,"y":-10.4},{"p":"h","n":4,"b":1,"x":19.9,"y":-10.17},{"p":"h","n":4,"b":1,"x":19.83,"y":-9.74},{"p":"h","n":4,"b":1,"x":19.83,"y":-9.13},{"p":"h","n":4,"b":1,"x":19.86,"y":-8.21},
{"p":"h","n":5,"b":0,"x":19.9,"y":-7},{"p":"h","n":5,"b":0,"x":20.01,"y":-7},{"p":"h","n":5,"b":0,"x":20,"y":-8.21},{"p":"h","n":5,"b":0,"x":19.99,"y":-9.13},{"p":"h","n":5,"b":0,"x":20,"y":-9.87},{"p":"h","n":5,"b":0,"x":19.97,"y":-9.9},{"p":"h","n":5,"b":0,"x":19.9,"y":-9.44},{"p":"h","n":5,"b":0,"x":19.9,"y":-8.52},
{"p":"i","n":0,"b":1,"x":19,"y":-12},{"p":"i","n":0,"b":1,"x":19,"y":-7},{"p":"i","n":0,"b":1,"x":22,"y":-7},{"p":"i","n":0,"b":1,"x":22,"y":-12},
{"p":"i","n":1,"b":0,"x":19,"y":-7},{"p":"i","n":1,"b":0,"x":19.14,"y":-7},{"p":"i","n":1,"b":0,"x":19.12,"y":-7.6},{"p":"i","n":1,"b":0,"x":19.03,"y":-8.52},{"p":"i","n":1,"b":0,"x":19,"y":-8.55},
{"p":"i","n":2,"b":2,"x":19.85,"y":-7},{"p":"i","n":2,"b":2,"x":19.8,"y":-7.9},{"p":"i","n":2,"b":2,"x":19.72,"y":-8.94},{"p":"i","n":2,"b":2,"x":19.66,"y":-9.56},{"p":"i","n":2,"b":2,"x":19.51,"y":-9.87},{"p":"i","n":2,"b":2,"x":19.37,"y":-10.36},{"p":"i","n":2,"b":2,"x":19.22,"y":-10.97},{"p":"i","n":2,"b":2,"x":19.14,"y":-11.34},{"p":"i","n":2,"b":2,"x":19,"y":-11.83},{"p":"i","n":2,"b":2,"x":19,"y":-12},{"p":"i","n":2,"b":2,"x":22,"y":-12},{"p":"i","n":2,"b":2,"x":22,"y":-7},
{"p":"i","n":3,"b":3,"x":20.03,"y":-7},{"p":"i","n":3,"b":3,"x":19.93,"y":-8.21},{"p":"i","n":3,"b":3,"x":19.87,"y":-9.44},{"p":"i","n":3,"b":3,"x":19.86,"y":-10.6},{"p":"i","n":3,"b":3,"x":19.8,"y":-11.28},{"p":"i","n":3,"b":3,"x":19.68,"y":-11.71},{"p":"i","n":3,"b":3,"x":19.58,"y":-12},{"p":"i","n":3,"b":3,"x":22,"y":-12},{"p":"i","n":3,"b":3,"x":22,"y":-7},
{"p":"i","n":4,"b":4,"x":20.36,"y":-7},{"p":"i","n":4,"b":4,"x":20.32,"y":-8.21},{"p":"i","n":4,"b":4,"x":20.28,"y":-10.36},{"p":"i","n":4,"b":4,"x":20.22,"y":-11.03},{"p":"i","n":4,"b":4,"x":20.15,"y":-11.58},{"p":"i","n":4,"b":4,"x":20.06,"y":-12},{"p":"i","n":4,"b":4,"x":22,"y":-12},{"p":"i","n":4,"b":4,"x":22,"y":-7},
{"p":"i","n":5,"b":5,"x":20.9,"y":-7},{"p":"i","n":5,"b":5,"x":20.84,"y":-8.21},{"p":"i","n":5,"b":5,"x":20.78,"y":-10.05},{"p":"i","n":5,"b":5,"x":20.73,"y":-10.79},{"p":"i","n":5,"b":5,"x":20.63,"y":-11.52},{"p":"i","n":5,"b":5,"x":20.54,"y":-12},{"p":"i","n":5,"b":5,"x":22,"y":-12},{"p":"i","n":5,"b":5,"x":22,"y":-7},
{"p":"i","n":6,"b":6,"x":21.52,"y":-7},{"p":"i","n":6,"b":6,"x":21.44,"y":-8.52},{"p":"i","n":6,"b":6,"x":21.36,"y":-9.74},{"p":"i","n":6,"b":6,"x":21.31,"y":-10.66},{"p":"i","n":6,"b":6,"x":21.19,"y":-11.34},{"p":"i","n":6,"b":6,"x":21.02,"y":-12},{"p":"i","n":6,"b":6,"x":22,"y":-12},{"p":"i","n":6,"b":6,"x":22,"y":-7},
{"p":"i","n":7,"b":7,"x":22,"y":-9.34},{"p":"i","n":7,"b":7,"x":21.9,"y":-10.29},{"p":"i","n":7,"b":7,"x":21.77,"y":-11.09},{"p":"i","n":7,"b":7,"x":21.61,"y":-11.58},{"p":"i","n":7,"b":7,"x":21.49,"y":-12},{"p":"i","n":7,"b":7,"x":22,"y":-12}
],
"lines":[
{"g":"A1","x":20.42,"y":-7},{"g":"A1","x":20.41,"y":-8.1},{"g":"A1","x":20.47,"y":-9},{"g":"A1","x":20.55,"y":-9.7},{"g":"A1","x":20.65,"y":-10.15},{"g":"A1","x":20.8,"y":-10.45},{"g":"A1","x":20.98,"y":-10.54},{"g":"A1","x":21.3,"y":-10.47},{"g":"A1","x":21.7,"y":-10.37},{"g":"A1","x":21.9,"y":-10.32},{"g":"A1","x":22,"y":-10.19},
{"g":"A2","x":20.12,"y":-7},{"g":"A2","x":20.11,"y":-8.28},{"g":"A2","x":20.12,"y":-9.13},{"g":"A2","x":20.2,"y":-9.81},{"g":"A2","x":20.32,"y":-10.48},{"g":"A2","x":20.47,"y":-10.91},{"g":"A2","x":20.7,"y":-11.15},{"g":"A2","x":20.88,"y":-11.2},{"g":"A2","x":21.1,"y":-11.13},{"g":"A2","x":21.48,"y":-11.04},{"g":"A2","x":22,"y":-10.96},
{"g":"D1","x":19.75,"y":-7},{"g":"D1","x":19.74,"y":-7.66},{"g":"D1","x":19.7,"y":-8.15},{"g":"D1","x":19.64,"y":-8.89},{"g":"D1","x":19.58,"y":-9.62},{"g":"D1","x":19.52,"y":-10.42},{"g":"D1","x":19.48,"y":-11.16},{"g":"D1","x":19.5,"y":-11.65},{"g":"D1","x":19.58,"y":-11.87},{"g":"D1","x":19.66,"y":-11.93},{"g":"D1","x":19.81,"y":-11.9},{"g":"D1","x":20.12,"y":-11.74},{"g":"D1","x":20.43,"y":-11.5},{"g":"D1","x":20.7,"y":-11.22},{"g":"D1","x":20.86,"y":-10.79},{"g":"D1","x":20.92,"y":-10.12},{"g":"D1","x":20.96,"y":-9.5},{"g":"D1","x":20.92,"y":-8.89},{"g":"D1","x":20.82,"y":-8.4},{"g":"D1","x":20.7,"y":-7.91},{"g":"D1","x":20.59,"y":-7.57},{"g":"D1","x":20.49,"y":-7.49},{"g":"D1","x":20.39,"y":-7.6},{"g":"D1","x":20.32,"y":-7.79},{"g":"D1","x":20.2,"y":-7.92},{"g":"D1","x":20.13,"y":-7.48},{"g":"D1","x":20.12,"y":-7},
{"g":"D2","x":19.91,"y":-7},{"g":"D2","x":19.88,"y":-7.66},{"g":"D2","x":19.83,"y":-8.28},{"g":"D2","x":19.77,"y":-8.89},{"g":"D2","x":19.7,"y":-9.63},{"g":"D2","x":19.62,"y":-10.3},{"g":"D2","x":19.59,"y":-10.73},{"g":"D2","x":19.6,"y":-11.16},{"g":"D2","x":19.7,"y":-11.43},{"g":"D2","x":19.83,"y":-11.5},{"g":"D2","x":20,"y":-11.28},{"g":"D2","x":20.18,"y":-10.91},{"g":"D2","x":20.2,"y":-10.55},{"g":"D2","x":20.12,"y":-9.93},{"g":"D2","x":20.03,"y":-9.26},{"g":"D2","x":19.99,"y":-8.28},{"g":"D2","x":20.01,"y":-7},
{"g":"C1","x":20.42,"y":-7},{"g":"C1","x":20.41,"y":-8.28},{"g":"C1","x":20.46,"y":-9.13},{"g":"C1","x":20.53,"y":-10},{"g":"C1","x":20.69,"y":-10.36},{"g":"C1","x":20.9,"y":-10.53},{"g":"C1","x":21.07,"y":-10.52},{"g":"C1","x":21.46,"y":-10.41},{"g":"C1","x":21.85,"y":-10.35},{"g":"C1","x":22,"y":-10.19},
{"g":"C2","x":20.1,"y":-7},{"g":"C2","x":20.07,"y":-7.66},{"g":"C2","x":20.02,"y":-8.58},{"g":"C2","x":20.01,"y":-9.26},{"g":"C2","x":20.02,"y":-9.75},{"g":"C2","x":20.09,"y":-10.18},{"g":"C2","x":20.22,"y":-10.67},{"g":"C2","x":20.46,"y":-11.04},{"g":"C2","x":20.73,"y":-11.19},{"g":"C2","x":20.96,"y":-11.19},{"g":"C2","x":21.11,"y":-11.1},{"g":"C2","x":21.46,"y":-11.04},{"g":"C2","x":22,"y":-10.96},
{"g":"L1","x":21.66,"y":-7},{"g":"L1","x":21.69,"y":-8.01},{"g":"L1","x":21.73,"y":-8.87},{"g":"L1","x":21.81,"y":-9.48},{"g":"L1","x":21.9,"y":-10.1},{"g":"L1","x":22,"y":-10.53},
{"g":"L2","x":19.04,"y":-10.53},{"g":"L2","x":19.14,"y":-10.65},{"g":"L2","x":19.25,"y":-10.9},{"g":"L2","x":19.33,"y":-11.11},{"g":"L2","x":19.5,"y":-11.39},{"g":"L2","x":19.81,"y":-11.63},{"g":"L2","x":20.08,"y":-11.82},{"g":"L2","x":20.28,"y":-11.85},{"g":"L2","x":20.43,"y":-12},
{"g":"M1","x":21.66,"y":-7},{"g":"M1","x":21.69,"y":-8.01},{"g":"M1","x":21.73,"y":-8.87},{"g":"M1","x":21.81,"y":-9.48},{"g":"M1","x":21.88,"y":-10.1},{"g":"M1","x":22,"y":-10.53},
{"g":"M2","x":19,"y":-10.37},{"g":"M2","x":19.18,"y":-10.77},{"g":"M2","x":19.34,"y":-11.14},{"g":"M2","x":19.49,"y":-11.36},{"g":"M2","x":19.88,"y":-11.76},{"g":"M2","x":20.22,"y":-11.88},{"g":"M2","x":20.4,"y":-12},
{"g":"T1","x":19.96,"y":-7},{"g":"T1","x":19.95,"y":-7.29},{"g":"T1","x":19.89,"y":-7.9},{"g":"T1","x":19.77,"y":-8.52},{"g":"T1","x":19.66,"y":-9.13},{"g":"T1","x":19.58,"y":-9.74},{"g":"T1","x":19.54,"y":-10.11},{"g":"T1","x":19.41,"y":-10.54},{"g":"T1","x":19.25,"y":-11.15},{"g":"T1","x":19.14,"y":-11.58},{"g":"T1","x":19.03,"y":-12},
{"g":"T2","x":21.17,"y":-7},{"g":"T2","x":21.13,"y":-7.9},{"g":"T2","x":21.08,"y":-8.82},{"g":"T2","x":21.04,"y":-9.74},{"g":"T2","x":21.01,"y":-10.54},{"g":"T2","x":20.94,"y":-11.09},{"g":"T2","x":20.86,"y":-11.52},{"g":"T2","x":20.73,"y":-12},
{"g":"U1","x":19.84,"y":-7},{"g":"U1","x":19.81,"y":-7.6},{"g":"U1","x":19.74,"y":-8.52},{"g":"U1","x":19.7,"y":-9.44},{"g":"U1","x":19.66,"y":-9.96},{"g":"U1","x":19.53,"y":-10.2},{"g":"U1","x":19.41,"y":-10.48},{"g":"U1","x":19.3,"y":-11.09},{"g":"U1","x":19.18,"y":-11.46},{"g":"U1","x":19.03,"y":-12},
{"g":"U2","x":21.17,"y":-7},{"g":"U2","x":21.11,"y":-7.9},{"g":"U2","x":21.03,"y":-9.13},{"g":"U2","x":21,"y":-10.23},{"g":"U2","x":20.98,"y":-10.66},{"g":"U2","x":20.88,"y":-11.28},{"g":"U2","x":20.73,"y":-12}
],
"dots":[
{"p":"d","c":"pur","x":19.26,"y":-7.29},{"p":"d","c":"pur","x":19.47,"y":-7.29},{"p":"d","c":"pur","x":19.02,"y":-9.37},{"p":"d","c":"pur","x":19.01,"y":-9.55},{"p":"d","c":"pur","x":19,"y":-9.77},{"p":"d","c":"pur","x":19.02,"y":-10.04},{"p":"d","c":"pur","x":19.09,"y":-9.99},{"p":"d","c":"pur","x":19.38,"y":-10.54},{"p":"d","c":"pur","x":19,"y":-7.51},
{"p":"e","c":"pur","x":19.26,"y":-7.29},{"p":"e","c":"pur","x":19.48,"y":-7.29},{"p":"e","c":"pur","x":19.01,"y":-9.36},{"p":"e","c":"pur","x":19,"y":-9.55},{"p":"e","c":"pur","x":19,"y":-9.77},{"p":"e","c":"pur","x":19.02,"y":-10.04},{"p":"e","c":"pur","x":19.08,"y":-9.99},{"p":"e","c":"pur","x":19.38,"y":-10.54},
{"p":"e","c":"dkr","x":19.17,"y":-7.91},{"p":"e","c":"dkr","x":19.51,"y":-7.95},{"p":"e","c":"dkr","x":19.51,"y":-8.33},{"p":"e","c":"dkr","x":19.48,"y":-8.53},{"p":"e","c":"dkr","x":19.48,"y":-8.61},{"p":"e","c":"dkr","x":19.44,"y":-9.53},{"p":"e","c":"dkr","x":19.41,"y":-9.82},
{"p":"e","c":"org","x":19.26,"y":-8.1},{"p":"e","c":"org","x":19.35,"y":-10.27},{"p":"e","c":"org","x":19.28,"y":-10.28},{"p":"e","c":"org","x":19.4,"y":-9.91},{"p":"e","c":"org","x":19.32,"y":-10.04},{"p":"e","c":"org","x":19.17,"y":-11.63},{"p":"e","c":"org","x":19.32,"y":-11.68},{"p":"e","c":"org","x":19.24,"y":-11.85},{"p":"e","c":"org","x":19.04,"y":-7.64},{"p":"e","c":"org","x":19.32,"y":-7.8},
{"p":"e","c":"blu","x":19.67,"y":-7.86},{"p":"e","c":"blu","x":19.05,"y":-9},{"p":"e","c":"blu","x":19.3,"y":-9.06},{"p":"e","c":"blu","x":20.15,"y":-10.59},
{"p":"e","c":"blk","x":19.2,"y":-7.8},{"p":"e","c":"blk","x":19.26,"y":-7.75},{"p":"e","c":"blk","x":19.35,"y":-10.67},
{"p":"f","c":"blk","x":19.2,"y":-7.8},{"p":"f","c":"blk","x":19.27,"y":-7.75},{"p":"f","c":"blk","x":19.36,"y":-10.68},
{"p":"h","c":"pch","x":19.32,"y":-7.06},{"p":"h","c":"pch","x":19.53,"y":-7.1},{"p":"h","c":"pch","x":19.27,"y":-7.3},{"p":"h","c":"pch","x":19.48,"y":-7.3},{"p":"h","c":"pch","x":19.48,"y":-7.5},{"p":"h","c":"pch","x":19.36,"y":-7.65},{"p":"h","c":"pch","x":19.48,"y":-7.9},{"p":"h","c":"pch","x":19.3,"y":-8.99},{"p":"h","c":"pch","x":19.48,"y":-9.42},{"p":"h","c":"pch","x":19.65,"y":-7.9}
],
"rings":[
{"p":"d","x":19.05,"y":-10.28},{"p":"d","x":19.1,"y":-10.48},{"p":"d","x":19.26,"y":-10.79},{"p":"d","x":19.32,"y":-11.02},{"p":"d","x":20.27,"y":-11.8},
{"p":"e","x":19.05,"y":-10.28},{"p":"e","x":19.09,"y":-10.48},{"p":"e","x":19.26,"y":-10.79},{"p":"e","x":19.33,"y":-11.03},{"p":"e","x":20.26,"y":-11.8},{"p":"e","x":19.03,"y":-10.65}
],
"text":[
{"p":"a","k":"H","t":"Asymmetric","x":20.37,"y":-6.3},{"p":"b","k":"H","t":"Asymmetric - Symmetric","x":20.8,"y":-6.3},{"p":"c","k":"H","t":"Symmetric","x":20.76,"y":-6.3},
{"p":"a","k":"B","t":"a)","x":18.26,"y":-7.29},{"p":"b","k":"B","t":"b)","x":18.68,"y":-7.29},{"p":"c","k":"B","t":"c)","x":18.66,"y":-7.29},{"p":"d","k":"B","t":"d)","x":18.25,"y":-7.02},{"p":"e","k":"B","t":"e)","x":18.66,"y":-7.02},{"p":"f","k":"B","t":"f)","x":18.68,"y":-7.02},{"p":"g","k":"B","t":"g)","x":18.25,"y":-7.18},{"p":"h","k":"B","t":"h)","x":18.68,"y":-7.17},{"p":"i","k":"B","t":"i)","x":18.7,"y":-7.17},
{"p":"a","k":"R","t":"Crustal thickness,","x":19.29,"y":-6.835},{"p":"a","k":"I","t":"D","x":21.18,"y":-6.835},{"p":"a","k":"r","t":"asym","x":21.35,"y":-6.68},{"p":"a","k":"i","t":"cr","x":21.33,"y":-6.926},
{"p":"b","k":"R","t":"Difference,","x":19.3,"y":-6.835},{"p":"b","k":"I","t":"D","x":20.46,"y":-6.835},{"p":"b","k":"r","t":"asym","x":20.62,"y":-6.68},{"p":"b","k":"i","t":"cr","x":20.61,"y":-6.926},{"p":"b","k":"R","t":"−","x":21.05,"y":-6.835},{"p":"b","k":"I","t":"D","x":21.24,"y":-6.835},{"p":"b","k":"r","t":"sym","x":21.41,"y":-6.68},{"p":"b","k":"i","t":"cr","x":21.4,"y":-6.926},
{"p":"c","k":"R","t":"Crustal thickness,","x":19.32,"y":-6.835},{"p":"c","k":"I","t":"D","x":21.2,"y":-6.835},{"p":"c","k":"r","t":"sym","x":21.37,"y":-6.68},{"p":"c","k":"i","t":"cr","x":21.36,"y":-6.926},
{"p":"d","k":"R","t":"Average lid thickness,","x":19.08,"y":-6.82},{"p":"d","k":"I","t":"D","x":21.39,"y":-6.82},{"p":"d","k":"r","t":"asym","x":21.57,"y":-6.67},{"p":"d","k":"i","t":"L","x":21.55,"y":-6.89},
{"p":"e","k":"R","t":"Difference,","x":19.3,"y":-6.82},{"p":"e","k":"I","t":"D","x":20.46,"y":-6.82},{"p":"e","k":"r","t":"asym","x":20.62,"y":-6.67},{"p":"e","k":"i","t":"L","x":20.61,"y":-6.89},{"p":"e","k":"R","t":"−","x":21.05,"y":-6.82},{"p":"e","k":"I","t":"D","x":21.24,"y":-6.82},{"p":"e","k":"r","t":"sym","x":21.41,"y":-6.67},{"p":"e","k":"i","t":"L","x":21.4,"y":-6.89},
{"p":"f","k":"R","t":"Average lid thickness,","x":19.13,"y":-6.82},{"p":"f","k":"I","t":"D","x":21.43,"y":-6.82},{"p":"f","k":"r","t":"sym","x":21.61,"y":-6.67},{"p":"f","k":"i","t":"L","x":21.6,"y":-6.89},
{"p":"g","k":"R","t":"Mantle potential temperature,","x":18.73,"y":-6.8},{"p":"g","k":"I","t":"T","x":21.78,"y":-6.8},{"p":"g","k":"r","t":"asym","x":21.91,"y":-6.67},{"p":"g","k":"i","t":"p","x":21.9,"y":-6.875},
{"p":"h","k":"R","t":"Difference,","x":19.32,"y":-6.8},{"p":"h","k":"I","t":"T","x":20.48,"y":-6.8},{"p":"h","k":"r","t":"asym","x":20.62,"y":-6.67},{"p":"h","k":"i","t":"p","x":20.61,"y":-6.875},{"p":"h","k":"R","t":"−","x":21.05,"y":-6.8},{"p":"h","k":"I","t":"T","x":21.25,"y":-6.8},{"p":"h","k":"r","t":"sym","x":21.37,"y":-6.67},{"p":"h","k":"i","t":"p","x":21.36,"y":-6.875},
{"p":"i","k":"R","t":"Mantle potential temperature,","x":18.76,"y":-6.8},{"p":"i","k":"I","t":"T","x":21.79,"y":-6.8},{"p":"i","k":"r","t":"sym","x":21.93,"y":-6.67},{"p":"i","k":"i","t":"p","x":21.92,"y":-6.875},
{"p":"d","k":"V","t":"Reference permability,","x":18.154,"y":-13.08},{"p":"d","k":"W","t":"log₁₀(k₀)","x":18.154,"y":-8.38},
{"p":"h","k":"X","t":"Reference viscosity,","x":19.08,"y":-13.05},{"p":"h","k":"Y","t":"log₁₀(η₀)","x":21.72,"y":-13.05}
],
"cb":[
{"p":"a","lo":30,"hi":41.25,"b":0},{"p":"a","lo":41.25,"hi":52.5,"b":1},{"p":"a","lo":52.5,"hi":63.75,"b":2},{"p":"a","lo":63.75,"hi":75,"b":3},{"p":"a","lo":75,"hi":86.25,"b":4},{"p":"a","lo":86.25,"hi":97.5,"b":5},{"p":"a","lo":97.5,"hi":108.75,"b":6},{"p":"a","lo":108.75,"hi":120,"b":7},
{"p":"b","lo":-2,"hi":0.364,"b":0},{"p":"b","lo":0.364,"hi":2.727,"b":1},{"p":"b","lo":2.727,"hi":5.091,"b":2},{"p":"b","lo":5.091,"hi":7.455,"b":3},{"p":"b","lo":7.455,"hi":9.818,"b":4},{"p":"b","lo":9.818,"hi":12.182,"b":5},{"p":"b","lo":12.182,"hi":14.545,"b":6},{"p":"b","lo":14.545,"hi":16.909,"b":7},{"p":"b","lo":16.909,"hi":19.273,"b":8},{"p":"b","lo":19.273,"hi":21.636,"b":9},{"p":"b","lo":21.636,"hi":24,"b":10},
{"p":"c","lo":30,"hi":40,"b":0},{"p":"c","lo":40,"hi":50,"b":1},{"p":"c","lo":50,"hi":60,"b":2},{"p":"c","lo":60,"hi":70,"b":3},{"p":"c","lo":70,"hi":80,"b":4},{"p":"c","lo":80,"hi":90,"b":5},{"p":"c","lo":90,"hi":100,"b":6},{"p":"c","lo":100,"hi":110,"b":7},{"p":"c","lo":110,"hi":120,"b":8},
{"p":"d","lo":280,"hi":320,"b":0},{"p":"d","lo":320,"hi":360,"b":1},{"p":"d","lo":360,"hi":400,"b":2},{"p":"d","lo":400,"hi":440,"b":3},{"p":"d","lo":440,"hi":480,"b":4},{"p":"d","lo":480,"hi":520,"b":5},{"p":"d","lo":520,"hi":560,"b":6},{"p":"d","lo":560,"hi":600,"b":7},
{"p":"e","lo":-45,"hi":-35,"b":0},{"p":"e","lo":-35,"hi":-25,"b":1},{"p":"e","lo":-25,"hi":-15,"b":2},{"p":"e","lo":-15,"hi":-5,"b":3},{"p":"e","lo":-5,"hi":5,"b":4},{"p":"e","lo":5,"hi":15,"b":5},{"p":"e","lo":15,"hi":25,"b":6},{"p":"e","lo":25,"hi":35,"b":7},{"p":"e","lo":35,"hi":45,"b":8},
{"p":"f","lo":280,"hi":320,"b":0},{"p":"f","lo":320,"hi":360,"b":1},{"p":"f","lo":360,"hi":400,"b":2},{"p":"f","lo":400,"hi":440,"b":3},{"p":"f","lo":440,"hi":480,"b":4},{"p":"f","lo":480,"hi":520,"b":5},{"p":"f","lo":520,"hi":560,"b":6},{"p":"f","lo":560,"hi":600,"b":7},
{"p":"g","lo":1380,"hi":1440,"b":0},{"p":"g","lo":1440,"hi":1500,"b":1},{"p":"g","lo":1500,"hi":1560,"b":2},{"p":"g","lo":1560,"hi":1620,"b":3},{"p":"g","lo":1620,"hi":1680,"b":4},{"p":"g","lo":1680,"hi":1740,"b":5},{"p":"g","lo":1740,"hi":1800,"b":6},{"p":"g","lo":1800,"hi":1860,"b":7},
{"p":"h","lo":-48,"hi":-37.33,"b":0},{"p":"h","lo":-37.33,"hi":-26.67,"b":1},{"p":"h","lo":-26.67,"hi":-16,"b":2},{"p":"h","lo":-16,"hi":-5.33,"b":3},{"p":"h","lo":-5.33,"hi":5.33,"b":4},{"p":"h","lo":5.33,"hi":16,"b":5},{"p":"h","lo":16,"hi":26.67,"b":6},{"p":"h","lo":26.67,"hi":37.33,"b":7},{"p":"h","lo":37.33,"hi":48,"b":8},
{"p":"i","lo":1380,"hi":1440,"b":0},{"p":"i","lo":1440,"hi":1500,"b":1},{"p":"i","lo":1500,"hi":1560,"b":2},{"p":"i","lo":1560,"hi":1620,"b":3},{"p":"i","lo":1620,"hi":1680,"b":4},{"p":"i","lo":1680,"hi":1740,"b":5},{"p":"i","lo":1740,"hi":1800,"b":6},{"p":"i","lo":1800,"hi":1860,"b":7}
],
"frame":[{"x":19,"x2":22,"y":-12,"y2":-7}],
"none":[]
},
"concat":[
{"width":259,"height":272,"layer":[
{"data":{"name":"poly"},"transform":[{"filter":"datum.p=='a'"}],"mark":{"type":"line","strokeWidth":0,"interpolate":"catmull-rom","clip":true},"encoding":{"x":{"field":"x","type":"quantitative","title":null,"scale":{"domain":[19,22],"nice":false,"zero":false},"axis":{"values":[19,19.5,20,20.5,21,21.5,22],"labels":false}},"y":{"field":"y","type":"quantitative","title":null,"scale":{"domain":[-12,-7],"nice":false,"zero":false},"axis":{"values":[-12,-11,-10,-9,-8,-7],"format":"d"}},"detail":{"field":"n"},"order":{"value":null},"fill":{"field":"b","type":"ordinal","legend":null,"scale":{"domain":[0,1,2,3,4,5,6,7],"range":["#15518f","#3c8bbe","#9bc9e0","#deebf3","#fbe3d6","#f5a886","#d0564a","#8f0c26"]}}}},
{"data":{"name":"lines"},"transform":[{"filter":{"field":"g","oneOf":["A1","A2"]}}],"mark":{"type":"line","color":"#800080","strokeWidth":2.5,"interpolate":"catmull-rom","clip":true},"encoding":{"x":{"field":"x","type":"quantitative","title":null},"y":{"field":"y","type":"quantitative","title":null},"detail":{"field":"g"},"order":{"value":null}}},
{"data":{"name":"lines"},"transform":[{"filter":{"field":"g","oneOf":["D1","D2"]}}],"mark":{"type":"line","color":"#800080","strokeWidth":2.5,"strokeDash":[9,3,2,3],"interpolate":"catmull-rom","clip":true},"encoding":{"x":{"field":"x","type":"quantitative","title":null},"y":{"field":"y","type":"quantitative","title":null},"detail":{"field":"g"},"order":{"value":null}}},
{"data":{"name":"frame"},"mark":{"type":"rect","filled":false,"stroke":"#333","strokeWidth":1},"encoding":{"x":{"field":"x","type":"quantitative","title":null},"x2":{"field":"x2"},"y":{"field":"y","type":"quantitative","title":null},"y2":{"field":"y2"}}},
{"data":{"name":"text"},"transform":[{"filter":"datum.p=='a'&&datum.k=='H'"}],"mark":{"type":"text","align":"center","baseline":"alphabetic","fontSize":27,"fontWeight":"bold","color":"#000"},"encoding":{"x":{"field":"x","type":"quantitative","title":null},"y":{"field":"y","type":"quantitative","title":null},"text":{"field":"t"}}},
{"data":{"name":"text"},"transform":[{"filter":"datum.p=='a'&&datum.k=='B'"}],"mark":{"type":"text","align":"left","baseline":"alphabetic","fontSize":20,"fontWeight":"bold","color":"#000"},"encoding":{"x":{"field":"x","type":"quantitative","title":null},"y":{"field":"y","type":"quantitative","title":null},"text":{"field":"t"}}},
{"data":{"name":"text"},"transform":[{"filter":"datum.p=='a'&&datum.k=='R'"}],"mark":{"type":"text","align":"left","baseline":"alphabetic","fontSize":16.5,"color":"#262626"},"encoding":{"x":{"field":"x","type":"quantitative","title":null},"y":{"field":"y","type":"quantitative","title":null},"text":{"field":"t"}}},
{"data":{"name":"text"},"transform":[{"filter":"datum.p=='a'&&datum.k=='I'"}],"mark":{"type":"text","align":"left","baseline":"alphabetic","fontSize":16.5,"fontStyle":"italic","color":"#262626"},"encoding":{"x":{"field":"x","type":"quantitative","title":null},"y":{"field":"y","type":"quantitative","title":null},"text":{"field":"t"}}},
{"data":{"name":"text"},"transform":[{"filter":"datum.p=='a'&&datum.k=='r'"}],"mark":{"type":"text","align":"left","baseline":"alphabetic","fontSize":11.7,"color":"#262626"},"encoding":{"x":{"field":"x","type":"quantitative","title":null},"y":{"field":"y","type":"quantitative","title":null},"text":{"field":"t"}}},
{"data":{"name":"text"},"transform":[{"filter":"datum.p=='a'&&datum.k=='i'"}],"mark":{"type":"text","align":"left","baseline":"alphabetic","fontSize":11.7,"fontStyle":"italic","color":"#262626"},"encoding":{"x":{"field":"x","type":"quantitative","title":null},"y":{"field":"y","type":"quantitative","title":null},"text":{"field":"t"}}}
]},
{"width":14,"height":272,"data":{"name":"cb"},"transform":[{"filter":"datum.p=='a'"}],"mark":"rect","encoding":{"y":{"field":"lo","type":"quantitative","scale":{"domain":[30,120],"nice":false,"zero":false},"axis":{"orient":"right","title":"km","titleAngle":270,"titleX":45,"titleY":138,"titleFontWeight":"normal","titleFontSize":13.5,"titleColor":"#262626","tickSize":4,"labelPadding":4,"values":[30,40,50,60,70,80,90,100,110,120],"format":"d"}},"y2":{"field":"hi"},"fill":{"field":"b","type":"ordinal","legend":null,"scale":{"domain":[0,1,2,3,4,5,6,7],"range":["#15518f","#3c8bbe","#9bc9e0","#deebf3","#fbe3d6","#f5a886","#d0564a","#8f0c26"]}}}},
{"width":49,"height":272,"view":{"stroke":null},"data":{"name":"none"},"mark":"text","encoding":{}},
{"width":259,"height":272,"layer":[
{"data":{"name":"poly"},"transform":[{"filter":"datum.p=='b'"}],"mark":{"type":"line","strokeWidth":0,"interpolate":"catmull-rom","clip":true},"encoding":{"x":{"field":"x","type":"quantitative","title":null,"scale":{"domain":[19,22],"nice":false,"zero":false},"axis":{"values":[19,19.5,20,20.5,21,21.5,22],"labels":false}},"y":{"field":"y","type":"quantitative","title":null,"scale":{"domain":[-12,-7],"nice":false,"zero":false},"axis":{"values":[-12,-11,-10,-9,-8,-7],"labels":false}},"detail":{"field":"n"},"order":{"value":null},"fill":{"field":"b","type":"ordinal","legend":null,"scale":{"domain":[0,1,2,3,4,5,6,7,8,9,10,11],"range":["#eff3f5","#f9efe9","#fde0d0","#fbc7ab","#f5ad8a","#ec8e6c","#dc6b52","#c9443d","#b2222d","#900c24","#6c0520","#ffffff"]}}}},
{"data":{"name":"lines"},"transform":[{"filter":{"field":"g","oneOf":["A1","A2"]}}],"mark":{"type":"line","color":"#800080","strokeWidth":2.5,"interpolate":"catmull-rom","clip":true},"encoding":{"x":{"field":"x","type":"quantitative","title":null},"y":{"field":"y","type":"quantitative","title":null},"detail":{"field":"g"},"order":{"value":null}}},
{"data":{"name":"lines"},"transform":[{"filter":{"field":"g","oneOf":["D1","D2"]}}],"mark":{"type":"line","color":"#800080","strokeWidth":2.5,"strokeDash":[9,3,2,3],"interpolate":"catmull-rom","clip":true},"encoding":{"x":{"field":"x","type":"quantitative","title":null},"y":{"field":"y","type":"quantitative","title":null},"detail":{"field":"g"},"order":{"value":null}}},
{"data":{"name":"lines"},"transform":[{"filter":{"field":"g","oneOf":["C1","C2"]}}],"mark":{"type":"line","color":"#000","strokeWidth":2.5,"interpolate":"catmull-rom","clip":true},"encoding":{"x":{"field":"x","type":"quantitative","title":null},"y":{"field":"y","type":"quantitative","title":null},"detail":{"field":"g"},"order":{"value":null}}},
{"data":{"name":"frame"},"mark":{"type":"rect","filled":false,"stroke":"#333","strokeWidth":1},"encoding":{"x":{"field":"x","type":"quantitative","title":null},"x2":{"field":"x2"},"y":{"field":"y","type":"quantitative","title":null},"y2":{"field":"y2"}}},
{"data":{"name":"text"},"transform":[{"filter":"datum.p=='b'&&datum.k=='H'"}],"mark":{"type":"text","align":"center","baseline":"alphabetic","fontSize":27,"fontWeight":"bold","color":"#000"},"encoding":{"x":{"field":"x","type":"quantitative","title":null},"y":{"field":"y","type":"quantitative","title":null},"text":{"field":"t"}}},
{"data":{"name":"text"},"transform":[{"filter":"datum.p=='b'&&datum.k=='B'"}],"mark":{"type":"text","align":"left","baseline":"alphabetic","fontSize":20,"fontWeight":"bold","color":"#000"},"encoding":{"x":{"field":"x","type":"quantitative","title":null},"y":{"field":"y","type":"quantitative","title":null},"text":{"field":"t"}}},
{"data":{"name":"text"},"transform":[{"filter":"datum.p=='b'&&datum.k=='R'"}],"mark":{"type":"text","align":"left","baseline":"alphabetic","fontSize":16.5,"color":"#262626"},"encoding":{"x":{"field":"x","type":"quantitative","title":null},"y":{"field":"y","type":"quantitative","title":null},"text":{"field":"t"}}},
{"data":{"name":"text"},"transform":[{"filter":"datum.p=='b'&&datum.k=='I'"}],"mark":{"type":"text","align":"left","baseline":"alphabetic","fontSize":16.5,"fontStyle":"italic","color":"#262626"},"encoding":{"x":{"field":"x","type":"quantitative","title":null},"y":{"field":"y","type":"quantitative","title":null},"text":{"field":"t"}}},
{"data":{"name":"text"},"transform":[{"filter":"datum.p=='b'&&datum.k=='r'"}],"mark":{"type":"text","align":"left","baseline":"alphabetic","fontSize":11.7,"color":"#262626"},"encoding":{"x":{"field":"x","type":"quantitative","title":null},"y":{"field":"y","type":"quantitative","title":null},"text":{"field":"t"}}},
{"data":{"name":"text"},"transform":[{"filter":"datum.p=='b'&&datum.k=='i'"}],"mark":{"type":"text","align":"left","baseline":"alphabetic","fontSize":11.7,"fontStyle":"italic","color":"#262626"},"encoding":{"x":{"field":"x","type":"quantitative","title":null},"y":{"field":"y","type":"quantitative","title":null},"text":{"field":"t"}}}
]},
{"width":14,"height":272,"data":{"name":"cb"},"transform":[{"filter":"datum.p=='b'"}],"mark":"rect","encoding":{"y":{"field":"lo","type":"quantitative","scale":{"domain":[-2,24],"nice":false,"zero":false},"axis":{"orient":"right","title":"km","titleAngle":270,"titleX":58,"titleY":138,"titleFontWeight":"normal","titleFontSize":13.5,"titleColor":"#262626","tickSize":4,"labelPadding":4,"values":[-2,0.17,2.33,4.5,6.67,8.83,11,13.17,15.33,17.5,19.67,21.83,24],"format":".2f"}},"y2":{"field":"hi"},"fill":{"field":"b","type":"ordinal","legend":null,"scale":{"domain":[0,1,2,3,4,5,6,7,8,9,10,11],"range":["#eff3f5","#f9efe9","#fde0d0","#fbc7ab","#f5ad8a","#ec8e6c","#dc6b52","#c9443d","#b2222d","#900c24","#6c0520","#ffffff"]}}}},
{"width":49,"height":272,"view":{"stroke":null},"data":{"name":"none"},"mark":"text","encoding":{}},
{"width":259,"height":272,"layer":[
{"data":{"name":"poly"},"transform":[{"filter":"datum.p=='c'"}],"mark":{"type":"line","strokeWidth":0,"interpolate":"catmull-rom","clip":true},"encoding":{"x":{"field":"x","type":"quantitative","title":null,"scale":{"domain":[19,22],"nice":false,"zero":false},"axis":{"values":[19,19.5,20,20.5,21,21.5,22],"labels":false}},"y":{"field":"y","type":"quantitative","title":null,"scale":{"domain":[-12,-7],"nice":false,"zero":false},"axis":{"values":[-12,-11,-10,-9,-8,-7],"labels":false}},"detail":{"field":"n"},"order":{"value":null},"fill":{"field":"b","type":"ordinal","legend":null,"scale":{"domain":[0,1,2,3,4,5,6,7,8],"range":["#134e8d","#3a85bd","#80b7d7","#cbe1ed","#f5f5f5","#fcd2bc","#ef9676","#c9463f","#8a0b24"]}}}},
{"data":{"name":"lines"},"transform":[{"filter":{"field":"g","oneOf":["C1","C2"]}}],"mark":{"type":"line","color":"#000","strokeWidth":2.5,"interpolate":"catmull-rom","clip":true},"encoding":{"x":{"field":"x","type":"quantitative","title":null},"y":{"field":"y","type":"quantitative","title":null},"detail":{"field":"g"},"order":{"value":null}}},
{"data":{"name":"frame"},"mark":{"type":"rect","filled":false,"stroke":"#333","strokeWidth":1},"encoding":{"x":{"field":"x","type":"quantitative","title":null},"x2":{"field":"x2"},"y":{"field":"y","type":"quantitative","title":null},"y2":{"field":"y2"}}},
{"data":{"name":"text"},"transform":[{"filter":"datum.p=='c'&&datum.k=='H'"}],"mark":{"type":"text","align":"center","baseline":"alphabetic","fontSize":27,"fontWeight":"bold","color":"#000"},"encoding":{"x":{"field":"x","type":"quantitative","title":null},"y":{"field":"y","type":"quantitative","title":null},"text":{"field":"t"}}},
{"data":{"name":"text"},"transform":[{"filter":"datum.p=='c'&&datum.k=='B'"}],"mark":{"type":"text","align":"left","baseline":"alphabetic","fontSize":20,"fontWeight":"bold","color":"#000"},"encoding":{"x":{"field":"x","type":"quantitative","title":null},"y":{"field":"y","type":"quantitative","title":null},"text":{"field":"t"}}},
{"data":{"name":"text"},"transform":[{"filter":"datum.p=='c'&&datum.k=='R'"}],"mark":{"type":"text","align":"left","baseline":"alphabetic","fontSize":16.5,"color":"#262626"},"encoding":{"x":{"field":"x","type":"quantitative","title":null},"y":{"field":"y","type":"quantitative","title":null},"text":{"field":"t"}}},
{"data":{"name":"text"},"transform":[{"filter":"datum.p=='c'&&datum.k=='I'"}],"mark":{"type":"text","align":"left","baseline":"alphabetic","fontSize":16.5,"fontStyle":"italic","color":"#262626"},"encoding":{"x":{"field":"x","type":"quantitative","title":null},"y":{"field":"y","type":"quantitative","title":null},"text":{"field":"t"}}},
{"data":{"name":"text"},"transform":[{"filter":"datum.p=='c'&&datum.k=='r'"}],"mark":{"type":"text","align":"left","baseline":"alphabetic","fontSize":11.7,"color":"#262626"},"encoding":{"x":{"field":"x","type":"quantitative","title":null},"y":{"field":"y","type":"quantitative","title":null},"text":{"field":"t"}}},
{"data":{"name":"text"},"transform":[{"filter":"datum.p=='c'&&datum.k=='i'"}],"mark":{"type":"text","align":"left","baseline":"alphabetic","fontSize":11.7,"fontStyle":"italic","color":"#262626"},"encoding":{"x":{"field":"x","type":"quantitative","title":null},"y":{"field":"y","type":"quantitative","title":null},"text":{"field":"t"}}}
]},
{"width":14,"height":272,"data":{"name":"cb"},"transform":[{"filter":"datum.p=='c'"}],"mark":"rect","encoding":{"y":{"field":"lo","type":"quantitative","scale":{"domain":[30,120],"nice":false,"zero":false},"axis":{"orient":"right","title":"km","titleAngle":270,"titleX":46,"titleY":138,"titleFontWeight":"normal","titleFontSize":13.5,"titleColor":"#262626","tickSize":4,"labelPadding":4,"values":[30,40,50,60,70,80,90,100,110,120],"format":"d"}},"y2":{"field":"hi"},"fill":{"field":"b","type":"ordinal","legend":null,"scale":{"domain":[0,1,2,3,4,5,6,7,8],"range":["#134e8d","#3a85bd","#80b7d7","#cbe1ed","#f5f5f5","#fcd2bc","#ef9676","#c9463f","#8a0b24"]}}}},
{"width":259,"height":272,"layer":[
{"data":{"name":"poly"},"transform":[{"filter":"datum.p=='d'"}],"mark":{"type":"line","strokeWidth":0,"interpolate":"catmull-rom","clip":true},"encoding":{"x":{"field":"x","type":"quantitative","title":null,"scale":{"domain":[19,22],"nice":false,"zero":false},"axis":{"values":[19,19.5,20,20.5,21,21.5,22],"labels":false}},"y":{"field":"y","type":"quantitative","title":null,"scale":{"domain":[-12,-7],"nice":false,"zero":false},"axis":{"values":[-12,-11,-10,-9,-8,-7],"format":"d"}},"detail":{"field":"n"},"order":{"value":null},"fill":{"field":"b","type":"ordinal","legend":null,"scale":{"domain":[0,1,2,3,4,5,6,7],"range":["#15518f","#3c8bbe","#9bc9e0","#deebf3","#fbe3d6","#f5a886","#d0564a","#8f0c26"]}}}},
{"data":{"name":"lines"},"transform":[{"filter":{"field":"g","oneOf":["L1","L2"]}}],"mark":{"type":"line","color":"#800080","strokeWidth":2.5,"interpolate":"catmull-rom","clip":true},"encoding":{"x":{"field":"x","type":"quantitative","title":null},"y":{"field":"y","type":"quantitative","title":null},"detail":{"field":"g"},"order":{"value":null}}},
{"data":{"name":"dots"},"transform":[{"filter":"datum.p=='d'"}],"mark":{"type":"point","filled":true,"size":28,"opacity":1},"encoding":{"x":{"field":"x","type":"quantitative","title":null},"y":{"field":"y","type":"quantitative","title":null},"color":{"field":"c","type":"nominal","legend":null,"scale":{"domain":["pur","blk","dkr","org","blu","pch"],"range":["#800080","#000000","#8a0b24","#ef9676","#3a85bd","#fcd2bc"]}}}},
{"data":{"name":"rings"},"transform":[{"filter":"datum.p=='d'"}],"mark":{"type":"point","filled":false,"stroke":"#800080","strokeWidth":2,"size":55,"opacity":1},"encoding":{"x":{"field":"x","type":"quantitative","title":null},"y":{"field":"y","type":"quantitative","title":null}}},
{"data":{"name":"frame"},"mark":{"type":"rect","filled":false,"stroke":"#333","strokeWidth":1},"encoding":{"x":{"field":"x","type":"quantitative","title":null},"x2":{"field":"x2"},"y":{"field":"y","type":"quantitative","title":null},"y2":{"field":"y2"}}},
{"data":{"name":"text"},"transform":[{"filter":"datum.p=='d'&&datum.k=='V'"}],"mark":{"type":"text","align":"left","baseline":"alphabetic","fontSize":21,"angle":270,"color":"#262626"},"encoding":{"x":{"field":"x","type":"quantitative","title":null},"y":{"field":"y","type":"quantitative","title":null},"text":{"field":"t"}}},
{"data":{"name":"text"},"transform":[{"filter":"datum.p=='d'&&datum.k=='W'"}],"mark":{"type":"text","align":"left","baseline":"alphabetic","fontSize":22.7,"angle":270,"fontStyle":"italic","color":"#262626"},"encoding":{"x":{"field":"x","type":"quantitative","title":null},"y":{"field":"y","type":"quantitative","title":null},"text":{"field":"t"}}},
{"data":{"name":"text"},"transform":[{"filter":"datum.p=='d'&&datum.k=='B'"}],"mark":{"type":"text","align":"left","baseline":"alphabetic","fontSize":20,"fontWeight":"bold","color":"#000"},"encoding":{"x":{"field":"x","type":"quantitative","title":null},"y":{"field":"y","type":"quantitative","title":null},"text":{"field":"t"}}},
{"data":{"name":"text"},"transform":[{"filter":"datum.p=='d'&&datum.k=='R'"}],"mark":{"type":"text","align":"left","baseline":"alphabetic","fontSize":16.5,"color":"#262626"},"encoding":{"x":{"field":"x","type":"quantitative","title":null},"y":{"field":"y","type":"quantitative","title":null},"text":{"field":"t"}}},
{"data":{"name":"text"},"transform":[{"filter":"datum.p=='d'&&datum.k=='I'"}],"mark":{"type":"text","align":"left","baseline":"alphabetic","fontSize":16.5,"fontStyle":"italic","color":"#262626"},"encoding":{"x":{"field":"x","type":"quantitative","title":null},"y":{"field":"y","type":"quantitative","title":null},"text":{"field":"t"}}},
{"data":{"name":"text"},"transform":[{"filter":"datum.p=='d'&&datum.k=='r'"}],"mark":{"type":"text","align":"left","baseline":"alphabetic","fontSize":11.7,"color":"#262626"},"encoding":{"x":{"field":"x","type":"quantitative","title":null},"y":{"field":"y","type":"quantitative","title":null},"text":{"field":"t"}}},
{"data":{"name":"text"},"transform":[{"filter":"datum.p=='d'&&datum.k=='i'"}],"mark":{"type":"text","align":"left","baseline":"alphabetic","fontSize":11.7,"fontStyle":"italic","color":"#262626"},"encoding":{"x":{"field":"x","type":"quantitative","title":null},"y":{"field":"y","type":"quantitative","title":null},"text":{"field":"t"}}}
]},
{"width":14,"height":272,"data":{"name":"cb"},"transform":[{"filter":"datum.p=='d'"}],"mark":"rect","encoding":{"y":{"field":"lo","type":"quantitative","scale":{"domain":[280,600],"nice":false,"zero":false},"axis":{"orient":"right","title":"km","titleAngle":270,"titleX":45,"titleY":138,"titleFontWeight":"normal","titleFontSize":13.5,"titleColor":"#262626","tickSize":4,"labelPadding":4,"values":[280,320,360,400,440,480,520,560,600],"format":"d"}},"y2":{"field":"hi"},"fill":{"field":"b","type":"ordinal","legend":null,"scale":{"domain":[0,1,2,3,4,5,6,7],"range":["#15518f","#3c8bbe","#9bc9e0","#deebf3","#fbe3d6","#f5a886","#d0564a","#8f0c26"]}}}},
{"width":49,"height":272,"view":{"stroke":null},"data":{"name":"none"},"mark":"text","encoding":{}},
{"width":259,"height":272,"layer":[
{"data":{"name":"poly"},"transform":[{"filter":"datum.p=='e'"}],"mark":{"type":"line","strokeWidth":0,"interpolate":"catmull-rom","clip":true},"encoding":{"x":{"field":"x","type":"quantitative","title":null,"scale":{"domain":[19,22],"nice":false,"zero":false},"axis":{"values":[19,19.5,20,20.5,21,21.5,22],"labels":false}},"y":{"field":"y","type":"quantitative","title":null,"scale":{"domain":[-12,-7],"nice":false,"zero":false},"axis":{"values":[-12,-11,-10,-9,-8,-7],"labels":false}},"detail":{"field":"n"},"order":{"value":null},"fill":{"field":"b","type":"ordinal","legend":null,"scale":{"domain":[0,1,2,3,4,5,6,7,8],"range":["#134e8d","#3a85bd","#80b7d7","#cbe1ed","#f5f5f5","#fcd2bc","#ef9676","#c9463f","#8a0b24"]}}}},
{"data":{"name":"dots"},"transform":[{"filter":"datum.p=='e'"}],"mark":{"type":"point","filled":true,"size":28,"opacity":1},"encoding":{"x":{"field":"x","type":"quantitative","title":null},"y":{"field":"y","type":"quantitative","title":null},"color":{"field":"c","type":"nominal","legend":null,"scale":{"domain":["pur","blk","dkr","org","blu","pch"],"range":["#800080","#000000","#8a0b24","#ef9676","#3a85bd","#fcd2bc"]}}}},
{"data":{"name":"lines"},"transform":[{"filter":{"field":"g","oneOf":["L1","L2"]}}],"mark":{"type":"line","color":"#800080","strokeWidth":2.5,"interpolate":"catmull-rom","clip":true},"encoding":{"x":{"field":"x","type":"quantitative","title":null},"y":{"field":"y","type":"quantitative","title":null},"detail":{"field":"g"},"order":{"value":null}}},
{"data":{"name":"rings"},"transform":[{"filter":"datum.p=='e'"}],"mark":{"type":"point","filled":false,"stroke":"#800080","strokeWidth":2,"size":55,"opacity":1},"encoding":{"x":{"field":"x","type":"quantitative","title":null},"y":{"field":"y","type":"quantitative","title":null}}},
{"data":{"name":"lines"},"transform":[{"filter":{"field":"g","oneOf":["M1","M2"]}}],"mark":{"type":"line","color":"#000","strokeWidth":2.5,"interpolate":"catmull-rom","clip":true},"encoding":{"x":{"field":"x","type":"quantitative","title":null},"y":{"field":"y","type":"quantitative","title":null},"detail":{"field":"g"},"order":{"value":null}}},
{"data":{"name":"frame"},"mark":{"type":"rect","filled":false,"stroke":"#333","strokeWidth":1},"encoding":{"x":{"field":"x","type":"quantitative","title":null},"x2":{"field":"x2"},"y":{"field":"y","type":"quantitative","title":null},"y2":{"field":"y2"}}},
{"data":{"name":"text"},"transform":[{"filter":"datum.p=='e'&&datum.k=='B'"}],"mark":{"type":"text","align":"left","baseline":"alphabetic","fontSize":20,"fontWeight":"bold","color":"#000"},"encoding":{"x":{"field":"x","type":"quantitative","title":null},"y":{"field":"y","type":"quantitative","title":null},"text":{"field":"t"}}},
{"data":{"name":"text"},"transform":[{"filter":"datum.p=='e'&&datum.k=='R'"}],"mark":{"type":"text","align":"left","baseline":"alphabetic","fontSize":16.5,"color":"#262626"},"encoding":{"x":{"field":"x","type":"quantitative","title":null},"y":{"field":"y","type":"quantitative","title":null},"text":{"field":"t"}}},
{"data":{"name":"text"},"transform":[{"filter":"datum.p=='e'&&datum.k=='I'"}],"mark":{"type":"text","align":"left","baseline":"alphabetic","fontSize":16.5,"fontStyle":"italic","color":"#262626"},"encoding":{"x":{"field":"x","type":"quantitative","title":null},"y":{"field":"y","type":"quantitative","title":null},"text":{"field":"t"}}},
{"data":{"name":"text"},"transform":[{"filter":"datum.p=='e'&&datum.k=='r'"}],"mark":{"type":"text","align":"left","baseline":"alphabetic","fontSize":11.7,"color":"#262626"},"encoding":{"x":{"field":"x","type":"quantitative","title":null},"y":{"field":"y","type":"quantitative","title":null},"text":{"field":"t"}}},
{"data":{"name":"text"},"transform":[{"filter":"datum.p=='e'&&datum.k=='i'"}],"mark":{"type":"text","align":"left","baseline":"alphabetic","fontSize":11.7,"fontStyle":"italic","color":"#262626"},"encoding":{"x":{"field":"x","type":"quantitative","title":null},"y":{"field":"y","type":"quantitative","title":null},"text":{"field":"t"}}}
]},
{"width":14,"height":272,"data":{"name":"cb"},"transform":[{"filter":"datum.p=='e'"}],"mark":"rect","encoding":{"y":{"field":"lo","type":"quantitative","scale":{"domain":[-45,45],"nice":false,"zero":false},"axis":{"orient":"right","title":"km","titleAngle":270,"titleX":47,"titleY":138,"titleFontWeight":"normal","titleFontSize":13.5,"titleColor":"#262626","tickSize":4,"labelPadding":4,"values":[-45,-36,-27,-18,-9,0,9,18,27,36,45],"format":"d"}},"y2":{"field":"hi"},"fill":{"field":"b","type":"ordinal","legend":null,"scale":{"domain":[0,1,2,3,4,5,6,7,8],"range":["#134e8d","#3a85bd","#80b7d7","#cbe1ed","#f5f5f5","#fcd2bc","#ef9676","#c9463f","#8a0b24"]}}}},
{"width":49,"height":272,"view":{"stroke":null},"data":{"name":"none"},"mark":"text","encoding":{}},
{"width":259,"height":272,"layer":[
{"data":{"name":"poly"},"transform":[{"filter":"datum.p=='f'"}],"mark":{"type":"line","strokeWidth":0,"interpolate":"catmull-rom","clip":true},"encoding":{"x":{"field":"x","type":"quantitative","title":null,"scale":{"domain":[19,22],"nice":false,"zero":false},"axis":{"values":[19,19.5,20,20.5,21,21.5,22],"labels":false}},"y":{"field":"y","type":"quantitative","title":null,"scale":{"domain":[-12,-7],"nice":false,"zero":false},"axis":{"values":[-12,-11,-10,-9,-8,-7],"labels":false}},"detail":{"field":"n"},"order":{"value":null},"fill":{"field":"b","type":"ordinal","legend":null,"scale":{"domain":[0,1,2,3,4,5,6,7],"range":["#15518f","#3c8bbe","#9bc9e0","#deebf3","#fbe3d6","#f5a886","#d0564a","#8f0c26"]}}}},
{"data":{"name":"lines"},"transform":[{"filter":{"field":"g","oneOf":["M1","M2"]}}],"mark":{"type":"line","color":"#000","strokeWidth":2.5,"interpolate":"catmull-rom","clip":true},"encoding":{"x":{"field":"x","type":"quantitative","title":null},"y":{"field":"y","type":"quantitative","title":null},"detail":{"field":"g"},"order":{"value":null}}},
{"data":{"name":"dots"},"transform":[{"filter":"datum.p=='f'"}],"mark":{"type":"point","filled":true,"size":28,"opacity":1},"encoding":{"x":{"field":"x","type":"quantitative","title":null},"y":{"field":"y","type":"quantitative","title":null},"color":{"field":"c","type":"nominal","legend":null,"scale":{"domain":["pur","blk","dkr","org","blu","pch"],"range":["#800080","#000000","#8a0b24","#ef9676","#3a85bd","#fcd2bc"]}}}},
{"data":{"name":"frame"},"mark":{"type":"rect","filled":false,"stroke":"#333","strokeWidth":1},"encoding":{"x":{"field":"x","type":"quantitative","title":null},"x2":{"field":"x2"},"y":{"field":"y","type":"quantitative","title":null},"y2":{"field":"y2"}}},
{"data":{"name":"text"},"transform":[{"filter":"datum.p=='f'&&datum.k=='B'"}],"mark":{"type":"text","align":"left","baseline":"alphabetic","fontSize":20,"fontWeight":"bold","color":"#000"},"encoding":{"x":{"field":"x","type":"quantitative","title":null},"y":{"field":"y","type":"quantitative","title":null},"text":{"field":"t"}}},
{"data":{"name":"text"},"transform":[{"filter":"datum.p=='f'&&datum.k=='R'"}],"mark":{"type":"text","align":"left","baseline":"alphabetic","fontSize":16.5,"color":"#262626"},"encoding":{"x":{"field":"x","type":"quantitative","title":null},"y":{"field":"y","type":"quantitative","title":null},"text":{"field":"t"}}},
{"data":{"name":"text"},"transform":[{"filter":"datum.p=='f'&&datum.k=='I'"}],"mark":{"type":"text","align":"left","baseline":"alphabetic","fontSize":16.5,"fontStyle":"italic","color":"#262626"},"encoding":{"x":{"field":"x","type":"quantitative","title":null},"y":{"field":"y","type":"quantitative","title":null},"text":{"field":"t"}}},
{"data":{"name":"text"},"transform":[{"filter":"datum.p=='f'&&datum.k=='r'"}],"mark":{"type":"text","align":"left","baseline":"alphabetic","fontSize":11.7,"color":"#262626"},"encoding":{"x":{"field":"x","type":"quantitative","title":null},"y":{"field":"y","type":"quantitative","title":null},"text":{"field":"t"}}},
{"data":{"name":"text"},"transform":[{"filter":"datum.p=='f'&&datum.k=='i'"}],"mark":{"type":"text","align":"left","baseline":"alphabetic","fontSize":11.7,"fontStyle":"italic","color":"#262626"},"encoding":{"x":{"field":"x","type":"quantitative","title":null},"y":{"field":"y","type":"quantitative","title":null},"text":{"field":"t"}}}
]},
{"width":14,"height":272,"data":{"name":"cb"},"transform":[{"filter":"datum.p=='f'"}],"mark":"rect","encoding":{"y":{"field":"lo","type":"quantitative","scale":{"domain":[280,600],"nice":false,"zero":false},"axis":{"orient":"right","title":"km","titleAngle":270,"titleX":45,"titleY":138,"titleFontWeight":"normal","titleFontSize":13.5,"titleColor":"#262626","tickSize":4,"labelPadding":4,"values":[280,320,360,400,440,480,520,560,600],"format":"d"}},"y2":{"field":"hi"},"fill":{"field":"b","type":"ordinal","legend":null,"scale":{"domain":[0,1,2,3,4,5,6,7],"range":["#15518f","#3c8bbe","#9bc9e0","#deebf3","#fbe3d6","#f5a886","#d0564a","#8f0c26"]}}}},
{"width":259,"height":272,"layer":[
{"data":{"name":"poly"},"transform":[{"filter":"datum.p=='g'"}],"mark":{"type":"line","strokeWidth":0,"interpolate":"catmull-rom","clip":true},"encoding":{"x":{"field":"x","type":"quantitative","title":null,"scale":{"domain":[19,22],"nice":false,"zero":false},"axis":{"values":[19,19.5,20,20.5,21,21.5,22],"format":".1f","labelPadding":8}},"y":{"field":"y","type":"quantitative","title":null,"scale":{"domain":[-12,-7],"nice":false,"zero":false},"axis":{"values":[-12,-11,-10,-9,-8,-7],"format":"d"}},"detail":{"field":"n"},"order":{"value":null},"fill":{"field":"b","type":"ordinal","legend":null,"scale":{"domain":[0,1,2,3,4,5,6,7],"range":["#15518f","#3c8bbe","#9bc9e0","#deebf3","#fbe3d6","#f5a886","#d0564a","#8f0c26"]}}}},
{"data":{"name":"lines"},"transform":[{"filter":{"field":"g","oneOf":["T1","T2"]}}],"mark":{"type":"line","color":"#800080","strokeWidth":1.4,"interpolate":"catmull-rom","clip":true},"encoding":{"x":{"field":"x","type":"quantitative","title":null},"y":{"field":"y","type":"quantitative","title":null},"detail":{"field":"g"},"order":{"value":null}}},
{"data":{"name":"frame"},"mark":{"type":"rect","filled":false,"stroke":"#333","strokeWidth":1},"encoding":{"x":{"field":"x","type":"quantitative","title":null},"x2":{"field":"x2"},"y":{"field":"y","type":"quantitative","title":null},"y2":{"field":"y2"}}},
{"data":{"name":"text"},"transform":[{"filter":"datum.p=='g'&&datum.k=='B'"}],"mark":{"type":"text","align":"left","baseline":"alphabetic","fontSize":20,"fontWeight":"bold","color":"#000"},"encoding":{"x":{"field":"x","type":"quantitative","title":null},"y":{"field":"y","type":"quantitative","title":null},"text":{"field":"t"}}},
{"data":{"name":"text"},"transform":[{"filter":"datum.p=='g'&&datum.k=='R'"}],"mark":{"type":"text","align":"left","baseline":"alphabetic","fontSize":16.5,"color":"#262626"},"encoding":{"x":{"field":"x","type":"quantitative","title":null},"y":{"field":"y","type":"quantitative","title":null},"text":{"field":"t"}}},
{"data":{"name":"text"},"transform":[{"filter":"datum.p=='g'&&datum.k=='I'"}],"mark":{"type":"text","align":"left","baseline":"alphabetic","fontSize":16.5,"fontStyle":"italic","color":"#262626"},"encoding":{"x":{"field":"x","type":"quantitative","title":null},"y":{"field":"y","type":"quantitative","title":null},"text":{"field":"t"}}},
{"data":{"name":"text"},"transform":[{"filter":"datum.p=='g'&&datum.k=='r'"}],"mark":{"type":"text","align":"left","baseline":"alphabetic","fontSize":11.7,"color":"#262626"},"encoding":{"x":{"field":"x","type":"quantitative","title":null},"y":{"field":"y","type":"quantitative","title":null},"text":{"field":"t"}}},
{"data":{"name":"text"},"transform":[{"filter":"datum.p=='g'&&datum.k=='i'"}],"mark":{"type":"text","align":"left","baseline":"alphabetic","fontSize":11.7,"fontStyle":"italic","color":"#262626"},"encoding":{"x":{"field":"x","type":"quantitative","title":null},"y":{"field":"y","type":"quantitative","title":null},"text":{"field":"t"}}}
]},
{"width":14,"height":272,"data":{"name":"cb"},"transform":[{"filter":"datum.p=='g'"}],"mark":"rect","encoding":{"y":{"field":"lo","type":"quantitative","scale":{"domain":[1380,1860],"nice":false,"zero":false},"axis":{"orient":"right","title":"K","titleAngle":270,"titleX":51,"titleY":138,"titleFontWeight":"normal","titleFontSize":13.5,"titleColor":"#262626","tickSize":4,"labelPadding":4,"values":[1380,1440,1500,1560,1620,1680,1740,1800,1860],"format":"d"}},"y2":{"field":"hi"},"fill":{"field":"b","type":"ordinal","legend":null,"scale":{"domain":[0,1,2,3,4,5,6,7],"range":["#15518f","#3c8bbe","#9bc9e0","#deebf3","#fbe3d6","#f5a886","#d0564a","#8f0c26"]}}}},
{"width":49,"height":272,"view":{"stroke":null},"data":{"name":"none"},"mark":"text","encoding":{}},
{"width":259,"height":272,"layer":[
{"data":{"name":"poly"},"transform":[{"filter":"datum.p=='h'"}],"mark":{"type":"line","strokeWidth":0,"interpolate":"catmull-rom","clip":true},"encoding":{"x":{"field":"x","type":"quantitative","title":null,"scale":{"domain":[19,22],"nice":false,"zero":false},"axis":{"values":[19,19.5,20,20.5,21,21.5,22],"format":".1f","labelPadding":8}},"y":{"field":"y","type":"quantitative","title":null,"scale":{"domain":[-12,-7],"nice":false,"zero":false},"axis":{"values":[-12,-11,-10,-9,-8,-7],"labels":false}},"detail":{"field":"n"},"order":{"value":null},"fill":{"field":"b","type":"ordinal","legend":null,"scale":{"domain":[0,1,2,3,4,5,6,7,8],"range":["#134e8d","#3a85bd","#80b7d7","#cbe1ed","#f5f5f5","#fcd2bc","#ef9676","#c9463f","#8a0b24"]}}}},
{"data":{"name":"dots"},"transform":[{"filter":"datum.p=='h'"}],"mark":{"type":"point","filled":true,"size":45,"opacity":1},"encoding":{"x":{"field":"x","type":"quantitative","title":null},"y":{"field":"y","type":"quantitative","title":null},"color":{"field":"c","type":"nominal","legend":null,"scale":{"domain":["pur","blk","dkr","org","blu","pch"],"range":["#800080","#000000","#8a0b24","#ef9676","#3a85bd","#fcd2bc"]}}}},
{"data":{"name":"lines"},"transform":[{"filter":{"field":"g","oneOf":["T1","T2","U1","U2"]}}],"mark":{"type":"line","color":"#800080","strokeWidth":1.4,"interpolate":"catmull-rom","clip":true},"encoding":{"x":{"field":"x","type":"quantitative","title":null},"y":{"field":"y","type":"quantitative","title":null},"detail":{"field":"g"},"order":{"value":null}}},
{"data":{"name":"frame"},"mark":{"type":"rect","filled":false,"stroke":"#333","strokeWidth":1},"encoding":{"x":{"field":"x","type":"quantitative","title":null},"x2":{"field":"x2"},"y":{"field":"y","type":"quantitative","title":null},"y2":{"field":"y2"}}},
{"data":{"name":"text"},"transform":[{"filter":"datum.p=='h'&&datum.k=='X'"}],"mark":{"type":"text","align":"left","baseline":"alphabetic","fontSize":21.5,"color":"#262626"},"encoding":{"x":{"field":"x","type":"quantitative","title":null},"y":{"field":"y","type":"quantitative","title":null},"text":{"field":"t"}}},
{"data":{"name":"text"},"transform":[{"filter":"datum.p=='h'&&datum.k=='Y'"}],"mark":{"type":"text","align":"left","baseline":"alphabetic","fontSize":22.7,"fontStyle":"italic","color":"#262626"},"encoding":{"x":{"field":"x","type":"quantitative","title":null},"y":{"field":"y","type":"quantitative","title":null},"text":{"field":"t"}}},
{"data":{"name":"text"},"transform":[{"filter":"datum.p=='h'&&datum.k=='B'"}],"mark":{"type":"text","align":"left","baseline":"alphabetic","fontSize":20,"fontWeight":"bold","color":"#000"},"encoding":{"x":{"field":"x","type":"quantitative","title":null},"y":{"field":"y","type":"quantitative","title":null},"text":{"field":"t"}}},
{"data":{"name":"text"},"transform":[{"filter":"datum.p=='h'&&datum.k=='R'"}],"mark":{"type":"text","align":"left","baseline":"alphabetic","fontSize":16.5,"color":"#262626"},"encoding":{"x":{"field":"x","type":"quantitative","title":null},"y":{"field":"y","type":"quantitative","title":null},"text":{"field":"t"}}},
{"data":{"name":"text"},"transform":[{"filter":"datum.p=='h'&&datum.k=='I'"}],"mark":{"type":"text","align":"left","baseline":"alphabetic","fontSize":16.5,"fontStyle":"italic","color":"#262626"},"encoding":{"x":{"field":"x","type":"quantitative","title":null},"y":{"field":"y","type":"quantitative","title":null},"text":{"field":"t"}}},
{"data":{"name":"text"},"transform":[{"filter":"datum.p=='h'&&datum.k=='r'"}],"mark":{"type":"text","align":"left","baseline":"alphabetic","fontSize":11.7,"color":"#262626"},"encoding":{"x":{"field":"x","type":"quantitative","title":null},"y":{"field":"y","type":"quantitative","title":null},"text":{"field":"t"}}},
{"data":{"name":"text"},"transform":[{"filter":"datum.p=='h'&&datum.k=='i'"}],"mark":{"type":"text","align":"left","baseline":"alphabetic","fontSize":11.7,"fontStyle":"italic","color":"#262626"},"encoding":{"x":{"field":"x","type":"quantitative","title":null},"y":{"field":"y","type":"quantitative","title":null},"text":{"field":"t"}}}
]},
{"width":14,"height":272,"data":{"name":"cb"},"transform":[{"filter":"datum.p=='h'"}],"mark":"rect","encoding":{"y":{"field":"lo","type":"quantitative","scale":{"domain":[-48,48],"nice":false,"zero":false},"axis":{"orient":"right","title":"K","titleAngle":270,"titleX":58,"titleY":138,"titleFontWeight":"normal","titleFontSize":13.5,"titleColor":"#262626","tickSize":4,"labelPadding":4,"values":[-48,-38.4,-28.8,-19.2,-9.6,0,9.6,19.2,28.8,38.4,48],"format":".1f"}},"y2":{"field":"hi"},"fill":{"field":"b","type":"ordinal","legend":null,"scale":{"domain":[0,1,2,3,4,5,6,7,8],"range":["#134e8d","#3a85bd","#80b7d7","#cbe1ed","#f5f5f5","#fcd2bc","#ef9676","#c9463f","#8a0b24"]}}}},
{"width":49,"height":272,"view":{"stroke":null},"data":{"name":"none"},"mark":"text","encoding":{}},
{"width":259,"height":272,"layer":[
{"data":{"name":"poly"},"transform":[{"filter":"datum.p=='i'"}],"mark":{"type":"line","strokeWidth":0,"interpolate":"catmull-rom","clip":true},"encoding":{"x":{"field":"x","type":"quantitative","title":null,"scale":{"domain":[19,22],"nice":false,"zero":false},"axis":{"values":[19,19.5,20,20.5,21,21.5,22],"format":".1f","labelPadding":8}},"y":{"field":"y","type":"quantitative","title":null,"scale":{"domain":[-12,-7],"nice":false,"zero":false},"axis":{"values":[-12,-11,-10,-9,-8,-7],"labels":false}},"detail":{"field":"n"},"order":{"value":null},"fill":{"field":"b","type":"ordinal","legend":null,"scale":{"domain":[0,1,2,3,4,5,6,7],"range":["#15518f","#3c8bbe","#9bc9e0","#deebf3","#fbe3d6","#f5a886","#d0564a","#8f0c26"]}}}},
{"data":{"name":"lines"},"transform":[{"filter":{"field":"g","oneOf":["U1","U2"]}}],"mark":{"type":"line","color":"#111","strokeWidth":1.4,"interpolate":"catmull-rom","clip":true},"encoding":{"x":{"field":"x","type":"quantitative","title":null},"y":{"field":"y","type":"quantitative","title":null},"detail":{"field":"g"},"order":{"value":null}}},
{"data":{"name":"frame"},"mark":{"type":"rect","filled":false,"stroke":"#333","strokeWidth":1},"encoding":{"x":{"field":"x","type":"quantitative","title":null},"x2":{"field":"x2"},"y":{"field":"y","type":"quantitative","title":null},"y2":{"field":"y2"}}},
{"data":{"name":"text"},"transform":[{"filter":"datum.p=='i'&&datum.k=='B'"}],"mark":{"type":"text","align":"left","baseline":"alphabetic","fontSize":20,"fontWeight":"bold","color":"#000"},"encoding":{"x":{"field":"x","type":"quantitative","title":null},"y":{"field":"y","type":"quantitative","title":null},"text":{"field":"t"}}},
{"data":{"name":"text"},"transform":[{"filter":"datum.p=='i'&&datum.k=='R'"}],"mark":{"type":"text","align":"left","baseline":"alphabetic","fontSize":16.5,"color":"#262626"},"encoding":{"x":{"field":"x","type":"quantitative","title":null},"y":{"field":"y","type":"quantitative","title":null},"text":{"field":"t"}}},
{"data":{"name":"text"},"transform":[{"filter":"datum.p=='i'&&datum.k=='I'"}],"mark":{"type":"text","align":"left","baseline":"alphabetic","fontSize":16.5,"fontStyle":"italic","color":"#262626"},"encoding":{"x":{"field":"x","type":"quantitative","title":null},"y":{"field":"y","type":"quantitative","title":null},"text":{"field":"t"}}},
{"data":{"name":"text"},"transform":[{"filter":"datum.p=='i'&&datum.k=='r'"}],"mark":{"type":"text","align":"left","baseline":"alphabetic","fontSize":11.7,"color":"#262626"},"encoding":{"x":{"field":"x","type":"quantitative","title":null},"y":{"field":"y","type":"quantitative","title":null},"text":{"field":"t"}}},
{"data":{"name":"text"},"transform":[{"filter":"datum.p=='i'&&datum.k=='i'"}],"mark":{"type":"text","align":"left","baseline":"alphabetic","fontSize":11.7,"fontStyle":"italic","color":"#262626"},"encoding":{"x":{"field":"x","type":"quantitative","title":null},"y":{"field":"y","type":"quantitative","title":null},"text":{"field":"t"}}}
]},
{"width":14,"height":272,"data":{"name":"cb"},"transform":[{"filter":"datum.p=='i'"}],"mark":"rect","encoding":{"y":{"field":"lo","type":"quantitative","scale":{"domain":[1380,1860],"nice":false,"zero":false},"axis":{"orient":"right","title":"K","titleAngle":270,"titleX":53,"titleY":138,"titleFontWeight":"normal","titleFontSize":13.5,"titleColor":"#262626","tickSize":4,"labelPadding":4,"values":[1380,1440,1500,1560,1620,1680,1740,1800,1860],"format":"d"}},"y2":{"field":"hi"},"fill":{"field":"b","type":"ordinal","legend":null,"scale":{"domain":[0,1,2,3,4,5,6,7],"range":["#15518f","#3c8bbe","#9bc9e0","#deebf3","#fbe3d6","#f5a886","#d0564a","#8f0c26"]}}}}
]}
